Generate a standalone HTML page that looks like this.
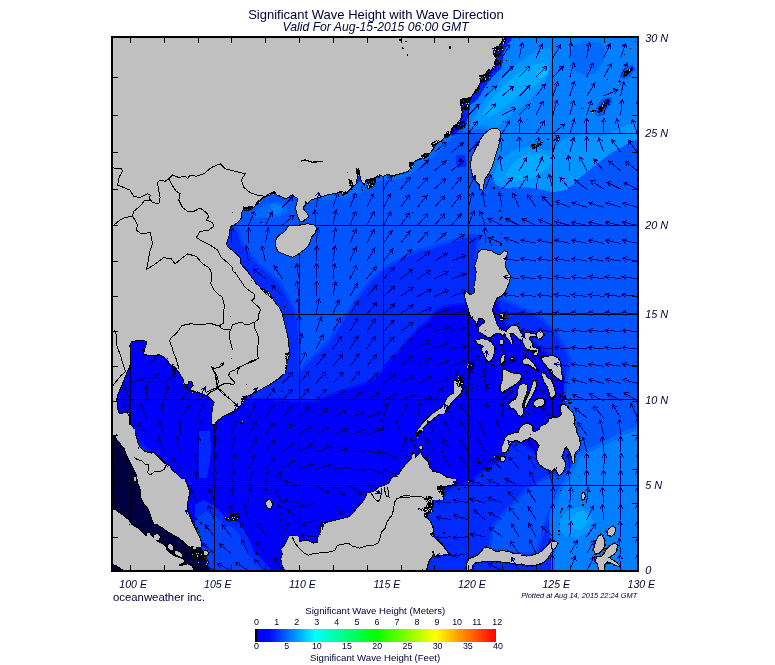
<!DOCTYPE html>
<html><head><meta charset="utf-8"><title>Significant Wave Height with Wave Direction</title>
<style>
html,body{margin:0;padding:0;background:#fff;}
body{width:775px;height:665px;overflow:hidden;position:relative;font-family:"Liberation Sans",sans-serif;color:#00003c;}
svg{position:absolute;left:0;top:0;}
.t{position:absolute;white-space:nowrap;line-height:1;}
.i{font-style:italic;}
</style></head><body>
<svg width="775" height="665" viewBox="0 0 775 665">
<defs><clipPath id="mapclip"><rect x="113" y="38" width="524" height="532"/></clipPath>
<linearGradient id="cb" x1="0" x2="1" y1="0" y2="0"><stop offset="0" stop-color="#000000"/><stop offset="0.007" stop-color="#000010"/><stop offset="0.012" stop-color="#0000ff"/><stop offset="0.06" stop-color="#0008ff"/><stop offset="0.25" stop-color="#00ffff"/><stop offset="0.5" stop-color="#00ff00"/><stop offset="0.75" stop-color="#ffff00"/><stop offset="1" stop-color="#ff0000"/></linearGradient></defs>
<g clip-path="url(#mapclip)">
<rect x="111" y="36" width="529" height="536" fill="#002aff"/>
<g shape-rendering="crispEdges">
<polygon fill="none" stroke="#0015ff" stroke-width="5" stroke-linejoin="round" points="225.0,395.0 240.0,401.0 265.9,400.0 299.5,402.0 317.6,402.0 328.0,397.0 338.3,393.0 348.7,389.3 361.6,385.4 374.5,380.2 382.3,372.4 390.1,362.1 400.4,350.5 410.8,338.8 421.0,327.0 428.4,322.0 433.4,316.0 437.6,311.0 444.4,307.5 451.0,306.6 458.0,305.8 464.6,305.0 470.5,304.0 480.0,300.0 495.0,300.0 505.0,325.0 525.0,335.0 540.0,350.0 552.0,358.0 562.0,375.0 566.0,392.0 560.0,410.0 565.0,420.0 560.0,440.0 540.0,455.0 520.0,440.0 505.0,440.0 502.0,458.0 490.0,465.0 478.0,473.0 468.0,482.0 456.0,484.0 430.0,500.0 380.0,530.0 330.0,545.0 292.0,540.0 288.0,572.0 205.0,572.0 195.0,540.0 185.0,500.0 150.0,450.0 135.0,435.0 115.0,420.0 115.0,390.0 125.0,345.0 128.0,336.0 150.0,333.0 170.0,350.0 185.0,370.0 195.0,385.0 210.0,395.0 215.0,410.0"/>
<polygon fill="#0000ff" points="225.0,395.0 240.0,401.0 265.9,400.0 299.5,402.0 317.6,402.0 328.0,397.0 338.3,393.0 348.7,389.3 361.6,385.4 374.5,380.2 382.3,372.4 390.1,362.1 400.4,350.5 410.8,338.8 421.0,327.0 428.4,322.0 433.4,316.0 437.6,311.0 444.4,307.5 451.0,306.6 458.0,305.8 464.6,305.0 470.5,304.0 480.0,300.0 495.0,300.0 505.0,325.0 525.0,335.0 540.0,350.0 552.0,358.0 562.0,375.0 566.0,392.0 560.0,410.0 565.0,420.0 560.0,440.0 540.0,455.0 520.0,440.0 505.0,440.0 502.0,458.0 490.0,465.0 478.0,473.0 468.0,482.0 456.0,484.0 430.0,500.0 380.0,530.0 330.0,545.0 292.0,540.0 288.0,572.0 205.0,572.0 195.0,540.0 185.0,500.0 150.0,450.0 135.0,435.0 115.0,420.0 115.0,390.0 125.0,345.0 128.0,336.0 150.0,333.0 170.0,350.0 185.0,370.0 195.0,385.0 210.0,395.0 215.0,410.0"/>
<polygon fill="none" stroke="#0040ff" stroke-width="6" stroke-linejoin="round" points="226.0,226.0 226.0,190.0 300.0,185.0 340.0,190.0 400.0,170.0 450.0,130.0 470.0,100.0 500.0,37.0 640.0,37.0 640.0,429.0 626.0,434.0 611.0,442.0 595.0,450.0 580.0,457.0 578.0,455.0 576.0,440.0 570.0,420.0 566.0,400.0 568.0,380.0 572.0,360.0 566.0,345.0 556.0,330.0 540.0,315.0 520.0,305.0 507.0,300.0 490.0,290.0 478.0,260.0 480.0,235.0 470.5,233.4 457.8,237.6 444.4,241.8 430.9,246.0 417.4,249.4 407.3,253.6 397.2,258.7 387.1,264.6 378.7,270.5 370.3,278.9 363.6,287.3 356.8,295.7 350.1,305.8 342.2,318.0 330.6,336.0 317.6,350.5 304.7,362.0 300.5,368.0 300.6,347.0 300.6,332.0 299.1,316.5 294.5,307.2 288.3,294.8 281.9,283.0 271.1,272.9 260.3,263.6 251.0,252.8 243.2,241.9 240.1,231.1 234.7,224.1 226.0,215.0"/>
<polygon fill="#0055ff" points="226.0,226.0 226.0,190.0 300.0,185.0 340.0,190.0 400.0,170.0 450.0,130.0 470.0,100.0 500.0,37.0 640.0,37.0 640.0,429.0 626.0,434.0 611.0,442.0 595.0,450.0 580.0,457.0 578.0,455.0 576.0,440.0 570.0,420.0 566.0,400.0 568.0,380.0 572.0,360.0 566.0,345.0 556.0,330.0 540.0,315.0 520.0,305.0 507.0,300.0 490.0,290.0 478.0,260.0 480.0,235.0 470.5,233.4 457.8,237.6 444.4,241.8 430.9,246.0 417.4,249.4 407.3,253.6 397.2,258.7 387.1,264.6 378.7,270.5 370.3,278.9 363.6,287.3 356.8,295.7 350.1,305.8 342.2,318.0 330.6,336.0 317.6,350.5 304.7,362.0 300.5,368.0 300.6,347.0 300.6,332.0 299.1,316.5 294.5,307.2 288.3,294.8 281.9,283.0 271.1,272.9 260.3,263.6 251.0,252.8 243.2,241.9 240.1,231.1 234.7,224.1 226.0,215.0"/>
<polygon fill="none" stroke="#0040ff" stroke-width="6" stroke-linejoin="round" points="580.0,457.0 572.0,470.0 560.0,476.0 553.8,475.5 541.0,482.0 528.0,489.7 517.6,501.4 504.7,514.3 494.3,527.2 491.7,544.0 490.0,552.0 535.0,552.0 546.0,517.0 551.0,504.0 556.0,491.0 564.0,481.0 572.0,470.0"/>
<polygon fill="#0055ff" points="580.0,457.0 572.0,470.0 560.0,476.0 553.8,475.5 541.0,482.0 528.0,489.7 517.6,501.4 504.7,514.3 494.3,527.2 491.7,544.0 490.0,552.0 535.0,552.0 546.0,517.0 551.0,504.0 556.0,491.0 564.0,481.0 572.0,470.0"/>
<polygon fill="none" stroke="#006aff" stroke-width="8" stroke-linejoin="round" points="640.5,428.9 626.3,434.1 610.8,441.9 595.2,449.6 579.7,457.4 574.0,470.3 568.0,481.0 562.0,491.0 556.0,504.0 553.0,517.0 553.0,524.0 554.0,535.0 555.0,545.0 555.0,572.0 640.5,572.0"/>
<polygon fill="#0080ff" points="640.5,428.9 626.3,434.1 610.8,441.9 595.2,449.6 579.7,457.4 574.0,470.3 568.0,481.0 562.0,491.0 556.0,504.0 553.0,517.0 553.0,524.0 554.0,535.0 555.0,545.0 555.0,572.0 640.5,572.0"/>
<polygon fill="none" stroke="#006aff" stroke-width="8" stroke-linejoin="round" points="497.0,37.0 640.0,37.0 640.0,130.0 620.0,138.0 600.0,148.0 580.0,160.0 560.0,172.0 545.0,182.0 520.0,185.0 500.0,183.0 490.0,175.0 485.0,150.0 492.0,130.0 466.0,128.0 463.0,115.0 470.0,102.0 478.0,88.0 486.0,74.0 492.0,58.0 498.0,45.0"/>
<polygon fill="#0080ff" points="497.0,37.0 640.0,37.0 640.0,130.0 620.0,138.0 600.0,148.0 580.0,160.0 560.0,172.0 545.0,182.0 520.0,185.0 500.0,183.0 490.0,175.0 485.0,150.0 492.0,130.0 466.0,128.0 463.0,115.0 470.0,102.0 478.0,88.0 486.0,74.0 492.0,58.0 498.0,45.0"/>
<polygon fill="#006aff" points="569.4,55.1 574.5,44.8 587.5,40.9 600.4,42.2 605.6,49.9 603.0,62.9 595.2,73.2 584.9,75.8 574.5,70.6 570.7,62.9"/>
<polygon fill="#0095ff" points="469.8,125.0 478.8,109.4 489.2,93.9 502.1,78.4 515.0,65.5 528.0,56.4 538.3,49.9 548.7,47.3 552.5,52.5 551.3,62.9 548.7,73.2 543.5,83.6 535.7,92.6 528.0,101.7 520.2,108.2 512.4,113.3 504.7,119.8 498.2,126.3 491.7,127.6 484.0,125.0 476.2,126.3"/>
<polygon fill="#0095ff" points="493.0,176.7 498.2,163.8 507.3,154.7 517.6,148.3 528.0,147.0 538.3,148.3 548.7,150.8 553.8,148.3 561.6,140.5 574.5,136.6 584.9,135.3 595.2,136.6 605.6,135.3 621.1,127.6 640.5,119.8 640.5,137.9 626.3,144.4 610.8,153.4 595.2,165.1 579.7,178.0 566.8,189.7 553.8,192.2 540.9,189.7 528.0,187.1 515.0,187.1 504.7,188.4 495.6,184.5"/>
<polygon fill="#0095ff" points="560.0,520.0 568.0,510.0 580.0,507.0 590.0,512.0 593.0,522.0 588.0,532.0 578.0,538.0 566.0,537.0 560.0,530.0"/>
<polygon fill="#00aaff" points="481.4,114.6 491.7,99.1 504.7,84.9 517.6,73.2 530.6,65.5 543.5,62.9 550.0,66.8 546.1,75.8 538.3,83.6 528.0,90.0 517.6,96.5 507.3,104.3 498.2,112.0 489.2,117.2"/>
<polygon fill="#00aaff" points="504.7,174.1 512.4,163.8 522.8,156.0 535.7,153.4 548.7,156.0 553.8,159.9 546.1,169.0 535.7,176.7 522.8,180.6 509.9,180.6"/>
<polygon fill="#00aaff" points="570.0,519.0 576.0,512.0 584.0,511.0 589.0,517.0 587.0,525.0 580.0,530.0 573.0,529.0"/>
<polygon fill="#00c1ff" points="535.7,73.2 543.5,68.0 548.7,69.3 546.1,75.8 539.6,78.4"/>
<polygon fill="#006aff" points="251.0,213.3 260.3,207.9 269.6,203.2 278.8,201.7 285.0,205.5 288.1,211.0 281.9,215.6 272.6,217.9 263.4,217.2 255.6,218.7"/>
<polygon fill="#0080ff" points="271.1,204.8 280.4,204.8 283.5,209.4 278.8,214.1 271.9,213.3"/>
<polygon fill="#006aff" points="320.7,195.8 330.0,194.3 339.3,191.2 347.0,191.9 353.2,185.0 361.7,181.1 370.3,179.6 379.6,174.9 391.9,175.7 402.8,172.6 410.5,167.9 416.7,159.4 424.5,154.8 433.0,148.6 436.8,142.4 445.4,135.4 450.8,131.9 453.9,136.2 447.7,142.4 441.5,148.6 435.3,154.8 427.6,161.0 419.8,166.4 413.6,172.6 404.3,177.2 393.5,180.3 381.1,180.3 371.8,184.2 364.1,191.9 353.2,195.0 347.0,198.1 339.3,197.4 330.0,199.7 320.7,200.5"/>
<polygon fill="#001eff" points="450.1,129.9 457.9,122.2 461.7,111.3 461.0,99.7 471.0,96.6 480.3,81.9 488.1,70.3 495.0,66.4 495.8,58.7 493.5,48.6 500.5,43.2 507.4,35.5 514.4,35.5 507.4,44.7 502.8,54.0 502.8,61.8 501.2,68.0 495.0,74.2 487.3,83.5 478.0,98.9 470.3,105.1 468.7,114.4 465.6,125.3 456.3,133.0 451.7,136.1"/>
<polygon fill="#002aff" points="203.0,500.0 214.7,506.0 226.0,517.0 236.0,521.0 245.0,530.0 250.0,542.0 255.0,553.0 265.0,562.0 272.0,572.0 195.0,572.0 195.0,505.0"/>
<polygon fill="#0040ff" points="205.0,512.0 214.7,515.0 223.2,524.0 233.3,528.0 240.0,536.0 244.0,545.0 248.0,555.0 258.0,565.0 262.0,572.0 195.0,572.0 195.0,520.0"/>
<polygon fill="#002aff" points="199.0,431.0 210.0,431.0 211.0,452.0 207.0,478.0 199.0,478.0"/>
<polygon fill="#0055ff" points="595.0,115.3 596.9,104.3 604.0,97.8 611.2,96.5 612.4,102.3 607.9,108.2 603.4,114.0 599.5,116.6"/>
<polygon fill="#002aff" points="597.6,113.3 599.5,106.2 604.7,101.0 609.2,99.7 609.9,102.3 606.0,106.2 602.1,111.4"/>
<polygon fill="#0055ff" points="620.2,77.8 622.1,69.3 632.5,64.2 635.7,69.3 629.9,76.5 624.1,79.7"/>
<polygon fill="#002aff" points="622.8,75.8 624.3,71.3 632.1,67.0 633.4,69.3 628.2,74.3"/>
<polygon fill="#002aff" points="455.5,155.6 464.8,154.8 466.3,166.5 457.0,168.0"/>
<polygon fill="#000040" points="108.5,430.4 119.3,430.4 148.7,480.0 164.2,511.0 190.5,545.0 201.4,548.1 204.5,554.3 202.9,560.5 209.1,566.7 210.7,572.9 108.5,572.9"/>
</g>
<g stroke="#000018" stroke-width="1" shape-rendering="crispEdges">
<line x1="130.5" y1="38" x2="130.5" y2="570"/><line x1="214.5" y1="38" x2="214.5" y2="570"/><line x1="299.5" y1="38" x2="299.5" y2="570"/><line x1="383.5" y1="38" x2="383.5" y2="570"/><line x1="468.5" y1="38" x2="468.5" y2="570"/><line x1="552.5" y1="38" x2="552.5" y2="570"/><line x1="113" y1="133.5" x2="637" y2="133.5"/><line x1="113" y1="225.5" x2="637" y2="225.5"/><line x1="113" y1="314.5" x2="637" y2="314.5"/><line x1="113" y1="399.5" x2="637" y2="399.5"/><line x1="113" y1="485.5" x2="637" y2="485.5"/></g>
<g fill="none" stroke="#000" stroke-linejoin="round" shape-rendering="crispEdges">
<polyline stroke-width="2" points="255.6,284.1 253.3,279.9 250.2,276.0 247.1,271.4 243.2,267.5 240.1,263.6 239.4,257.4 235.5,253.6 231.6,250.5 227.7,247.4 225.9,243.5 227.0,241.2 228.5,235.7 229.3,229.6 230.8,225.7 234.7,224.1 238.6,221.0 240.9,217.9 240.9,213.3 242.5,210.2 242.5,207.1 247.1,207.9 253.3,207.1 256.4,203.2 259.5,200.1 261.8,197.8 266.5,195.5 269.6,194.7 274.2,190.8 277.3,194.7 281.9,196.3 285.0,198.6 288.9,196.3 292.0,193.9 294.3,196.3 298.2,197.8 297.4,203.2 295.9,207.9 297.4,213.3 298.7,217.2 299.9,220.6 302.4,221.2 305.9,218.4 308.3,216.4 306.7,213.3 304.4,211.0 302.8,207.1 305.2,204.8 305.2,200.1 307.5,203.2 310.6,199.4 316.0,197.8 322.2,196.3 328.4,193.9 334.6,193.2 340.8,191.6"/>
<polyline stroke-width="2" points="288.1,226.8 292.8,225.8 299.0,226.1 302.1,224.9 306.7,224.4 311.4,224.6 315.2,226.1 316.3,229.6 314.5,233.4 311.4,236.5 309.8,241.2 308.3,245.0 304.4,248.9 300.5,252.0 297.4,254.3 292.8,256.6 288.1,255.1 281.9,252.8 278.1,251.2 276.5,246.6 275.7,241.9 277.3,238.1 280.4,235.0 284.3,232.6 286.6,229.6 288.1,226.8"/>
<polyline stroke-width="2" points="339.3,191.2 343.2,194.3 347.0,191.9 350.1,188.8 349.4,183.4 348.6,179.6 351.7,180.3 353.2,185.0 355.5,184.2 357.1,176.5 356.3,169.5 358.6,168.7 360.2,174.9 361.7,181.1 364.1,183.4 366.4,180.3 370.3,179.6 374.9,177.2 379.6,174.9 383.4,175.7 388.1,173.4 391.9,175.7 396.6,174.1 402.8,172.6 407.4,171.0 410.5,167.9 409.0,163.3 412.8,162.5 416.7,159.4 421.4,157.9 424.5,154.8 429.1,153.2 433.0,148.6 432.2,144.7 436.8,142.4 441.5,140.1 445.4,135.4 450.8,131.9"/>
<polyline stroke-width="2" points="450.1,129.9 454.0,126.0 457.9,122.2 461.0,117.5 461.7,111.3 460.2,105.1 461.0,99.7 466.4,98.2 471.0,96.6 474.1,92.0 477.2,87.3 480.3,81.9 479.6,76.5 484.2,74.9 488.1,70.3 491.2,69.5 495.0,66.4 493.5,63.3 495.8,58.7 492.7,54.0 493.5,48.6 498.1,46.3 500.5,43.2 504.3,39.3 507.4,35.5"/>
<polyline stroke-width="2" points="493.4,128.5 497.3,129.3 500.4,132.4 499.6,138.6 498.1,146.3 495.7,153.3 493.4,161.0 491.1,168.0 487.2,175.0 484.1,179.6 483.4,185.0 482.6,189.7 480.3,188.9 479.5,184.3 476.4,181.2 473.3,176.5 471.7,170.3 471.0,163.4 472.5,156.4 475.6,149.4 479.5,141.7 484.1,134.7 488.8,130.8 493.4,128.5"/>
<polyline stroke-width="2" points="468.9,309.4 466.6,302.4 465.1,296.2 465.8,291.6 470.5,295.5 475.1,293.1 474.4,286.9 475.9,279.2 476.7,271.5 475.1,266.0 477.5,259.1 478.2,252.9 482.1,249.8 486.7,250.5 491.4,251.3 496.0,254.4 500.7,255.2 504.6,251.3 506.9,252.1 506.1,258.3 504.6,265.3 506.9,271.5 510.0,276.1 509.2,281.5 506.9,286.9 504.6,292.4 501.5,295.5 496.8,297.8 494.5,302.4 492.2,308.6"/>
<polyline stroke-width="2" points="460.4,378.1 462.0,382.8 461.2,387.4 459.6,393.6 456.5,396.7 454.2,396.7 454.2,381.2 458.1,379.7 460.4,378.1"/>
<polyline stroke-width="2" points="563.4,404.5 566.5,406.0 569.6,410.7 568.8,414.1 561.8,414.1 561.1,406.0 563.4,404.5"/>
<polyline stroke-width="2" points="502.2,356.1 504.6,354.9 504.2,361.1 501.8,362.0 502.2,356.1"/>
<polyline stroke-width="2" points="467.0,299.2 467.8,304.7 469.0,310.2 470.2,314.5 471.7,316.8 473.7,318.8 475.6,321.1 476.8,323.5 477.6,321.1 477.6,318.4 479.6,317.6 482.7,318.4 484.6,320.0 485.0,322.3 483.1,323.9 481.1,325.8 479.2,327.4 478.8,330.1 479.6,332.1 481.9,332.9 484.3,334.4 487.0,336.4 490.1,337.2 492.1,336.0 493.6,334.0 496.0,332.9 498.3,332.5 500.3,333.3 502.3,334.4 504.6,336.0 506.9,337.6 508.9,339.1 510.5,341.5 511.3,343.8 512.4,343.4 512.0,340.7 510.9,338.3 510.1,336.0 509.3,333.6 510.9,332.5 513.2,332.9 515.6,334.8 517.9,337.2 520.0,339.1 522.0,340.7 523.5,342.6 524.7,345.0 525.9,347.3 527.8,348.9 530.6,349.7 533.3,350.1 534.9,350.9 534.1,352.4 534.5,354.8 536.1,355.2 537.2,353.6 538.0,351.3 537.6,349.3 535.7,348.5 533.3,347.7 531.8,346.2 532.1,343.8 531.0,341.5 529.4,339.5 529.0,337.6 530.6,336.4 533.3,336.0 535.7,335.6 535.3,334.4 532.5,334.4 530.2,333.6 527.8,332.9 525.1,333.6 523.1,335.2 520.8,333.6 519.2,330.9 517.9,327.0 514.8,325.8 511.6,326.2 509.3,327.8 507.7,330.1 506.6,332.1 504.6,331.3 502.3,330.1 499.9,328.6 497.9,326.6 496.4,323.5 495.2,320.3 494.0,316.8 492.9,313.3 491.7,309.8 492.1,307.0 493.6,303.9 494.8,299.2"/>
<polyline stroke-width="2" points="499.9,314.5 502.3,313.7 503.0,315.6 502.6,319.6 500.7,320.3 499.9,318.0 499.9,314.5"/>
<polyline stroke-width="2" points="537.3,333.5 539.2,330.9 541.8,331.6 543.1,334.8 541.2,338.0 538.6,338.7 537.0,336.8 537.3,333.5"/>
<polyline stroke-width="2" points="476.1,340.5 481.1,339.1 486.9,339.9 491.2,342.7 493.9,347.0 494.2,351.9 492.8,356.9 489.8,361.2 486.9,359.8 484.7,355.5 482.5,350.5 480.3,345.5 477.5,342.7 476.1,340.5"/>
<polyline stroke-width="2" points="500.0,340.6 503.0,340.0 503.9,342.6 502.3,344.5 500.4,343.9 500.0,340.6"/>
<polyline stroke-width="2" points="523.7,359.4 526.9,358.1 529.5,360.0 532.1,362.6 535.3,366.5 536.6,369.1 534.7,368.4 531.4,365.9 528.2,363.9 525.0,364.6 523.0,362.0 523.7,359.4"/>
<polyline stroke-width="2" points="501.7,356.8 503.9,356.2 503.4,360.7 501.7,363.3 500.8,360.7 501.7,356.8"/>
<polyline stroke-width="2" points="511.1,357.8 514.0,358.7 513.3,360.7 510.8,360.0 511.1,357.8"/>
<polyline stroke-width="2" points="503.3,369.7 507.2,371.0 511.0,372.9 515.6,374.2 519.5,373.6 521.4,376.2 520.1,379.4 517.5,382.0 514.3,384.6 511.0,386.5 507.8,388.5 504.6,390.4 502.0,392.3 500.7,389.8 501.3,385.2 502.6,380.7 503.3,375.5 503.3,369.7"/>
<polyline stroke-width="2" points="520.1,385.2 523.3,383.9 526.6,385.2 527.2,389.1 525.9,393.6 524.0,398.8 522.0,404.0 522.7,409.2 523.3,413.0 520.8,415.6 518.2,415.0 516.9,411.1 514.3,408.5 510.4,407.2 509.1,404.0 511.7,401.4 515.6,400.1 517.5,396.2 518.2,391.0 518.8,387.8 520.1,385.2"/>
<polyline stroke-width="2" points="535.0,380.7 536.3,383.9 535.0,389.1 532.4,394.3 529.8,398.8 527.2,403.3 525.3,407.2 524.6,404.6 526.6,400.1 529.2,394.9 531.1,389.8 532.4,385.2 533.7,382.0 535.0,380.7"/>
<polyline stroke-width="2" points="533.7,402.7 536.3,400.1 540.2,398.6 543.4,399.5 544.7,402.0 543.4,404.6 540.2,406.3 536.3,406.6 534.1,405.3 533.7,402.7"/>
<polyline stroke-width="2" points="542.1,372.9 544.7,374.2 547.3,378.1 549.9,379.4 552.4,383.3 553.7,387.8 555.0,392.3 554.4,396.9 551.8,397.5 549.9,394.9 549.2,390.4 547.3,385.9 544.7,382.0 542.7,377.5 542.1,372.9"/>
<polyline stroke-width="2" points="541.8,358.1 546.3,356.8 552.8,356.2 557.3,358.1 559.9,362.0 560.6,367.2 561.2,373.6 562.5,378.8 563.4,378.1 560.9,380.1 557.6,378.1 555.0,375.5 551.8,372.3 548.6,367.8 544.7,363.2 542.1,360.0 541.8,358.1"/>
<polyline stroke-width="2" points="560.5,405.8 563.6,405.1 566.6,408.9 569.7,410.5 572.8,413.6 574.4,419.8 573.6,425.2 575.9,428.3 576.7,433.7 579.0,438.4 579.8,444.6 578.3,449.2 575.2,452.3 573.6,456.9 573.6,463.1 572.1,460.0 571.3,454.6 569.0,450.0 566.6,446.1 564.3,448.4 562.8,453.1 561.2,456.9 563.6,460.0 565.1,463.9 564.3,468.6 562.0,472.4 558.9,475.5 557.4,471.6 555.0,467.8 551.9,470.9 548.1,469.3 543.4,467.0 539.6,463.9 537.2,459.3 536.5,453.8 538.0,449.2 539.6,445.3 537.2,441.5 533.4,439.1 530.3,436.8 527.2,439.1 523.3,439.9 521.0,442.2 518.6,440.7 515.5,439.9 511.7,441.5 509.4,444.6 507.8,448.4 505.5,452.3 502.4,451.5 501.6,447.6 503.9,443.0 505.5,438.4 508.6,435.3 513.2,433.7 518.6,432.9 520.2,428.3 523.3,425.2 527.9,423.6 531.8,426.0 532.6,431.4 534.9,432.2 539.6,429.8 541.1,426.0 545.0,425.2 548.1,422.9 549.6,419.0 553.5,418.2 558.1,417.5 562.0,415.1 561.2,410.5 560.5,405.8"/>
<polyline stroke-width="2" points="500.1,457.7 503.2,456.6 505.2,458.5 504.2,460.8 501.1,461.3 500.1,457.7"/>
<polyline stroke-width="2" points="582.6,494.1 584.1,492.9 584.8,495.7 583.7,499.1 581.7,499.1 582.6,494.1"/>
<polyline stroke-width="2" points="519.2,555.1 526.2,556.6 532.4,555.9 538.6,553.6 543.2,550.5 547.1,546.6 550.2,542.7 553.3,541.2 557.2,542.7 556.4,545.8 553.3,548.9 550.2,553.6 547.1,558.2 543.2,562.1 537.0,564.4 529.3,565.2 523.9,564.4 519.2,562.1"/>
<polyline stroke-width="2" points="609.0,529.6 612.1,526.5 614.8,528.0 614.5,532.6 611.4,535.7 608.3,535.0 607.5,531.9 609.0,529.6"/>
<polyline stroke-width="2" points="596.6,541.2 599.0,536.5 601.3,535.0 603.6,538.8 604.4,543.5 602.8,548.9 599.0,552.8 595.9,553.6 594.0,549.7 595.1,545.0 596.6,541.2"/>
<polyline stroke-width="2" points="604.4,554.3 606.7,549.7 610.6,545.8 614.5,543.5 616.8,545.8 616.0,551.2 612.1,555.1 608.3,557.4 611.4,559.7 616.0,562.8 619.1,565.9 616.0,565.2 611.4,562.8 607.5,561.3 604.4,564.4 603.6,570.6 599.0,570.6 598.2,564.4 595.9,560.5 597.4,556.6 601.3,557.4 604.4,554.3"/>
<polyline stroke-width="2" points="582.2,494.7 583.8,493.6 584.4,497.0 583.2,499.4 581.9,497.8 582.2,494.7"/>
<polyline stroke-width="2" points="456.5,479.2 454.2,483.1 449.6,485.4 443.4,485.4 437.9,486.2 437.2,489.3 440.3,493.2 443.4,495.5 437.2,497.8 431.7,499.4 433.3,503.2 431.0,507.1 431.7,511.0 427.9,513.3 425.5,517.2 429.4,521.0 431.7,525.7 433.3,531.1 431.0,535.0 434.8,538.1 438.7,541.9 442.6,545.8 445.7,550.5 448.8,554.3 441.8,555.1 435.6,555.9 433.3,552.8 431.7,556.6 428.6,560.5 427.1,565.9 425.5,571.4"/>
<polyline stroke-width="2" points="520.8,554.3 514.6,554.3 508.4,552.0 502.2,551.2 496.0,552.0 492.1,549.7 488.3,548.1 484.4,548.1 482.1,551.2 479.0,555.1 474.3,557.4 469.7,559.0 467.4,562.8 466.6,571.4 471.2,571.4 472.0,565.2 475.9,562.1 482.1,561.3 489.8,561.3 499.1,561.3 508.4,562.1 516.1,563.6 520.8,563.6"/>
<polyline stroke-width="2" points="288.5,535.8 293.1,535.8 296.2,539.7 300.1,542.0 304.7,540.5 308.6,541.2 313.2,543.6 317.9,542.8 318.6,536.6 321.0,531.9 321.7,523.4 324.8,522.6 330.3,521.9 336.5,520.3 342.6,518.8 348.8,517.2 353.5,513.4 358.1,507.2 362.8,502.5 365.9,497.9 367.4,493.2 371.3,492.5 375.2,490.9 379.8,487.0 382.9,486.3 386.8,485.5 390.7,484.7 393.7,481.6 390.7,479.3 395.3,476.2 399.9,473.9 402.3,469.2"/>
<polyline stroke-width="2" points="379.2,487.9 383.9,486.4 389.3,483.3 391.6,479.4 395.5,477.8 399.4,474.0 402.5,469.3 405.5,465.5 408.6,461.6 411.7,459.3 412.8,453.1 414.8,454.6 415.6,458.5 418.7,454.6 420.6,453.1 422.6,456.9 425.7,460.0 428.0,463.1 429.6,467.8 431.9,470.9 435.7,472.4 439.6,473.2 443.5,475.5 446.6,477.8 451.2,478.6 455.9,480.2 455.1,483.3 451.2,484.8 446.6,485.6 441.9,486.4 438.1,487.9 440.4,491.8 441.9,495.7 443.8,500.3"/>
<polyline stroke-width="2" points="456.6,394.2 452.8,398.1 448.9,402.0 447.4,406.6 445.0,410.5 441.2,412.8 437.3,415.1 433.4,418.2 429.6,421.3 425.7,424.4 422.6,427.5 421.0,430.6 418.7,432.9 417.2,436.8 416.4,433.7 417.9,429.8 421.0,426.0 424.1,422.1 428.0,418.2 431.9,414.4 436.5,411.3 441.2,408.2 444.3,404.3 446.6,399.6 449.7,395.8 452.0,394.2 456.6,394.2"/>
<polyline stroke-width="2" points="419.0,446.9 421.5,445.8 422.6,448.4 420.6,449.5 419.0,446.9"/>
<polyline stroke-width="2" points="437.2,413.7 441.8,407.6 446.5,401.4 451.1,396.7 455.0,392.8 457.3,389.0 460.4,386.6 461.9,389.0 460.4,393.6 456.5,396.7 453.4,399.8 449.6,404.5 445.7,409.9 444.1,413.7"/>
<polyline stroke-width="2" points="242.6,268.5 246.5,274.6 251.1,279.3 255.7,283.9 261.2,288.6 266.6,292.5 271.2,297.1 275.1,303.3 279.0,307.9 281.3,312.6 282.8,318.0 284.4,324.2 285.9,330.4 287.5,338.1 288.3,345.9 289.0,350.5 288.3,355.2 286.7,359.8 285.9,366.0 285.2,374.1"/>
<polyline stroke-width="2" points="286.7,358.5 285.9,364.6 285.2,369.3 282.8,373.9 279.0,377.8 274.3,380.9 269.7,384.0 265.0,386.3 260.4,389.4 255.0,391.7 251.1,394.1 246.5,396.4 243.4,399.5 241.0,404.1 237.9,408.0 233.3,411.1 228.6,413.4 223.2,415.7 219.4,419.6 215.5,423.5 212.4,424.3 211.6,419.6 212.4,412.6 213.9,406.5 214.7,401.8 210.8,398.7 207.0,394.8 204.6,392.5 199.2,391.0"/>
<polyline stroke-width="2" points="134.8,434.1 133.2,427.6 129.4,424.5 128.6,418.3 129.4,413.6 124.7,412.8 120.1,414.4 117.7,412.1 117.0,405.9 116.2,399.7 117.7,393.5 120.1,388.1 122.4,382.6 124.7,376.5 127.0,371.0 129.4,365.6 130.1,359.4 130.1,353.2 129.4,345.5 130.9,341.6 136.3,340.1 142.5,340.1 147.2,340.8 146.4,345.5 144.8,350.1 144.1,354.0 148.7,354.8 154.9,354.8 159.6,354.0 163.4,356.3 167.3,359.4 170.4,364.1 175.0,366.4 178.1,370.3 181.2,374.9 183.6,379.6 184.3,384.2 187.4,384.2 189.0,380.3 192.8,381.9 193.6,385.7 190.5,389.6 194.4,391.2 198.3,391.9 202.9,393.5 206.8,395.0 210.7,397.4 215.3,399.7 216.8,402.8 213.7,404.3 213.0,410.5 213.0,416.7 212.2,423.7"/>
<polyline stroke-width="2" points="154.1,524.1 152.6,519.1 150.3,512.9 147.2,506.7 143.3,502.1 141.0,497.4 141.7,492.8 140.2,488.1 137.9,481.9 137.1,475.7 136.3,469.6 134.8,464.9 133.2,460.3 129.4,457.2 126.3,453.3 124.7,448.6 121.6,444.8 117.7,440.1 115.4,436.3 108.5,434.7"/>
<polyline stroke-width="2" points="135.5,435.5 137.1,441.7 139.4,447.1 143.3,451.0 148.7,453.3 153.4,453.3 156.5,455.6 160.3,459.5 164.2,463.4 169.6,466.5 171.9,471.1 176.6,474.2 180.5,478.1 184.3,481.9 186.6,486.6 188.2,492.0 188.2,497.4 186.6,503.6 187.4,508.3 185.9,512.9 186.6,519.1 187.4,524.1"/>
<polyline stroke-width="2" points="108.5,509.0 116.2,511.4 120.8,515.2 125.5,519.1 130.1,524.1"/>
<polyline stroke-width="2" points="133.7,477.6 135.7,477.3 136.3,480.7 134.2,481.3 133.7,477.6"/>
<polyline stroke-width="2" points="184.3,478.5 187.4,486.2 189.0,492.4 188.2,498.6 186.6,504.8 187.4,511.0 189.7,517.2 192.1,523.4 195.2,528.8 197.5,534.2 199.8,538.8 201.4,542.7 200.6,546.6 196.7,547.4 193.6,545.8 190.5,546.6 188.2,545.8 184.3,541.9 179.7,538.1 174.3,535.0 168.8,531.9 163.4,528.0 158.0,524.9 154.1,521.0 152.6,516.4 149.5,510.2 146.4,504.8 143.3,500.1 141.0,494.7 141.7,489.3 140.2,484.6 137.1,478.5"/>
<polyline stroke-width="2" points="108.5,509.1 115.4,510.2 119.3,513.3 123.9,516.4 128.6,520.3 131.7,524.9 135.5,527.2 139.4,529.6 143.3,533.4 146.4,536.5 147.2,532.6 149.5,533.4 152.6,537.3 156.5,541.2 161.1,543.5 165.0,545.8 166.5,549.7 169.6,552.8 173.5,555.9 178.1,557.4 182.0,559.0 184.3,561.3 181.2,563.6 176.6,565.2 181.2,565.9 187.4,564.4 192.1,566.7 194.4,571.4"/>
<polyline stroke-width="2.4" points="108.5,562.1 116.2,565.2 120.8,568.3 125.5,571.4"/>
<polyline stroke-width="2" points="154.1,535.0 157.2,534.2 159.9,536.5 158.8,539.6 155.7,540.4 153.4,538.1 154.1,535.0"/>
<polyline stroke-width="2" points="167.3,544.7 171.2,544.3 173.5,548.1 171.9,550.5 168.8,548.9 167.3,544.7"/>
<polyline stroke-width="2" points="174.3,550.5 178.1,551.2 181.5,554.3 182.8,557.4 179.7,556.6 175.8,554.3 174.3,550.5"/>
<polyline stroke-width="2" points="192.8,546.6 195.9,546.3 196.7,548.4 193.6,548.9 192.8,546.6"/>
<polyline stroke-width="2" points="204.1,551.5 207.2,550.9 208.3,554.0 205.7,555.6 203.8,554.0 204.1,551.5"/>
<polyline stroke-width="2" points="292.9,535.8 289.0,537.4 286.7,541.2 284.4,545.9 281.3,549.7 282.8,554.4 281.3,559.0 282.1,564.5 284.4,569.1 285.5,573.0"/>
<polyline stroke-width="2" points="268.9,499.4 272.0,503.3 271.2,507.2 268.1,508.7 265.8,504.8 266.6,501.7 268.9,499.4"/>
</g>
<g fill="none" stroke="#000" stroke-width="3.4" stroke-dasharray="1.3 3.1" shape-rendering="crispEdges">
<polyline points="339.3,191.2 343.2,194.3 347.0,191.9 350.1,188.8 349.4,183.4 348.6,179.6 351.7,180.3 353.2,185.0 355.5,184.2 357.1,176.5 356.3,169.5 358.6,168.7 360.2,174.9 361.7,181.1 364.1,183.4 366.4,180.3 370.3,179.6 374.9,177.2 379.6,174.9 383.4,175.7 388.1,173.4 391.9,175.7 396.6,174.1 402.8,172.6 407.4,171.0 410.5,167.9 409.0,163.3 412.8,162.5 416.7,159.4 421.4,157.9 424.5,154.8 429.1,153.2 433.0,148.6 432.2,144.7 436.8,142.4 441.5,140.1 445.4,135.4 450.8,131.9"/>
<polyline points="450.1,129.9 454.0,126.0 457.9,122.2 461.0,117.5 461.7,111.3 460.2,105.1 461.0,99.7 466.4,98.2 471.0,96.6 474.1,92.0 477.2,87.3 480.3,81.9 479.6,76.5 484.2,74.9 488.1,70.3 491.2,69.5 495.0,66.4 493.5,63.3 495.8,58.7 492.7,54.0 493.5,48.6 498.1,46.3 500.5,43.2 504.3,39.3 507.4,35.5"/>
<polyline points="460.4,378.1 462.0,382.8 461.2,387.4 459.6,393.6 456.5,396.7 454.2,396.7 454.2,381.2 458.1,379.7 460.4,378.1"/>
<polyline points="563.4,404.5 566.5,406.0 569.6,410.7 568.8,414.1 561.8,414.1 561.1,406.0 563.4,404.5"/>
<polyline points="502.2,356.1 504.6,354.9 504.2,361.1 501.8,362.0 502.2,356.1"/>
<polyline points="467.0,299.2 467.8,304.7 469.0,310.2 470.2,314.5 471.7,316.8 473.7,318.8 475.6,321.1 476.8,323.5 477.6,321.1 477.6,318.4 479.6,317.6 482.7,318.4 484.6,320.0 485.0,322.3 483.1,323.9 481.1,325.8 479.2,327.4 478.8,330.1 479.6,332.1 481.9,332.9 484.3,334.4 487.0,336.4 490.1,337.2 492.1,336.0 493.6,334.0 496.0,332.9 498.3,332.5 500.3,333.3 502.3,334.4 504.6,336.0 506.9,337.6 508.9,339.1 510.5,341.5 511.3,343.8 512.4,343.4 512.0,340.7 510.9,338.3 510.1,336.0 509.3,333.6 510.9,332.5 513.2,332.9 515.6,334.8 517.9,337.2 520.0,339.1 522.0,340.7 523.5,342.6 524.7,345.0 525.9,347.3 527.8,348.9 530.6,349.7 533.3,350.1 534.9,350.9 534.1,352.4 534.5,354.8 536.1,355.2 537.2,353.6 538.0,351.3 537.6,349.3 535.7,348.5 533.3,347.7 531.8,346.2 532.1,343.8 531.0,341.5 529.4,339.5 529.0,337.6 530.6,336.4 533.3,336.0 535.7,335.6 535.3,334.4 532.5,334.4 530.2,333.6 527.8,332.9 525.1,333.6 523.1,335.2 520.8,333.6 519.2,330.9 517.9,327.0 514.8,325.8 511.6,326.2 509.3,327.8 507.7,330.1 506.6,332.1 504.6,331.3 502.3,330.1 499.9,328.6 497.9,326.6 496.4,323.5 495.2,320.3 494.0,316.8 492.9,313.3 491.7,309.8 492.1,307.0 493.6,303.9 494.8,299.2"/>
<polyline points="499.9,314.5 502.3,313.7 503.0,315.6 502.6,319.6 500.7,320.3 499.9,318.0 499.9,314.5"/>
<polyline points="537.3,333.5 539.2,330.9 541.8,331.6 543.1,334.8 541.2,338.0 538.6,338.7 537.0,336.8 537.3,333.5"/>
<polyline points="476.1,340.5 481.1,339.1 486.9,339.9 491.2,342.7 493.9,347.0 494.2,351.9 492.8,356.9 489.8,361.2 486.9,359.8 484.7,355.5 482.5,350.5 480.3,345.5 477.5,342.7 476.1,340.5"/>
<polyline points="500.0,340.6 503.0,340.0 503.9,342.6 502.3,344.5 500.4,343.9 500.0,340.6"/>
<polyline points="523.7,359.4 526.9,358.1 529.5,360.0 532.1,362.6 535.3,366.5 536.6,369.1 534.7,368.4 531.4,365.9 528.2,363.9 525.0,364.6 523.0,362.0 523.7,359.4"/>
<polyline points="501.7,356.8 503.9,356.2 503.4,360.7 501.7,363.3 500.8,360.7 501.7,356.8"/>
<polyline points="511.1,357.8 514.0,358.7 513.3,360.7 510.8,360.0 511.1,357.8"/>
<polyline points="503.3,369.7 507.2,371.0 511.0,372.9 515.6,374.2 519.5,373.6 521.4,376.2 520.1,379.4 517.5,382.0 514.3,384.6 511.0,386.5 507.8,388.5 504.6,390.4 502.0,392.3 500.7,389.8 501.3,385.2 502.6,380.7 503.3,375.5 503.3,369.7"/>
<polyline points="520.1,385.2 523.3,383.9 526.6,385.2 527.2,389.1 525.9,393.6 524.0,398.8 522.0,404.0 522.7,409.2 523.3,413.0 520.8,415.6 518.2,415.0 516.9,411.1 514.3,408.5 510.4,407.2 509.1,404.0 511.7,401.4 515.6,400.1 517.5,396.2 518.2,391.0 518.8,387.8 520.1,385.2"/>
<polyline points="535.0,380.7 536.3,383.9 535.0,389.1 532.4,394.3 529.8,398.8 527.2,403.3 525.3,407.2 524.6,404.6 526.6,400.1 529.2,394.9 531.1,389.8 532.4,385.2 533.7,382.0 535.0,380.7"/>
<polyline points="533.7,402.7 536.3,400.1 540.2,398.6 543.4,399.5 544.7,402.0 543.4,404.6 540.2,406.3 536.3,406.6 534.1,405.3 533.7,402.7"/>
<polyline points="542.1,372.9 544.7,374.2 547.3,378.1 549.9,379.4 552.4,383.3 553.7,387.8 555.0,392.3 554.4,396.9 551.8,397.5 549.9,394.9 549.2,390.4 547.3,385.9 544.7,382.0 542.7,377.5 542.1,372.9"/>
<polyline points="541.8,358.1 546.3,356.8 552.8,356.2 557.3,358.1 559.9,362.0 560.6,367.2 561.2,373.6 562.5,378.8 563.4,378.1 560.9,380.1 557.6,378.1 555.0,375.5 551.8,372.3 548.6,367.8 544.7,363.2 542.1,360.0 541.8,358.1"/>
<polyline points="560.5,405.8 563.6,405.1 566.6,408.9 569.7,410.5 572.8,413.6 574.4,419.8 573.6,425.2 575.9,428.3 576.7,433.7 579.0,438.4 579.8,444.6 578.3,449.2 575.2,452.3 573.6,456.9 573.6,463.1 572.1,460.0 571.3,454.6 569.0,450.0 566.6,446.1 564.3,448.4 562.8,453.1 561.2,456.9 563.6,460.0 565.1,463.9 564.3,468.6 562.0,472.4 558.9,475.5 557.4,471.6 555.0,467.8 551.9,470.9 548.1,469.3 543.4,467.0 539.6,463.9 537.2,459.3 536.5,453.8 538.0,449.2 539.6,445.3 537.2,441.5 533.4,439.1 530.3,436.8 527.2,439.1 523.3,439.9 521.0,442.2 518.6,440.7 515.5,439.9 511.7,441.5 509.4,444.6 507.8,448.4 505.5,452.3 502.4,451.5 501.6,447.6 503.9,443.0 505.5,438.4 508.6,435.3 513.2,433.7 518.6,432.9 520.2,428.3 523.3,425.2 527.9,423.6 531.8,426.0 532.6,431.4 534.9,432.2 539.6,429.8 541.1,426.0 545.0,425.2 548.1,422.9 549.6,419.0 553.5,418.2 558.1,417.5 562.0,415.1 561.2,410.5 560.5,405.8"/>
<polyline points="500.1,457.7 503.2,456.6 505.2,458.5 504.2,460.8 501.1,461.3 500.1,457.7"/>
<polyline points="582.6,494.1 584.1,492.9 584.8,495.7 583.7,499.1 581.7,499.1 582.6,494.1"/>
<polyline points="519.2,555.1 526.2,556.6 532.4,555.9 538.6,553.6 543.2,550.5 547.1,546.6 550.2,542.7 553.3,541.2 557.2,542.7 556.4,545.8 553.3,548.9 550.2,553.6 547.1,558.2 543.2,562.1 537.0,564.4 529.3,565.2 523.9,564.4 519.2,562.1"/>
<polyline points="609.0,529.6 612.1,526.5 614.8,528.0 614.5,532.6 611.4,535.7 608.3,535.0 607.5,531.9 609.0,529.6"/>
<polyline points="596.6,541.2 599.0,536.5 601.3,535.0 603.6,538.8 604.4,543.5 602.8,548.9 599.0,552.8 595.9,553.6 594.0,549.7 595.1,545.0 596.6,541.2"/>
<polyline points="604.4,554.3 606.7,549.7 610.6,545.8 614.5,543.5 616.8,545.8 616.0,551.2 612.1,555.1 608.3,557.4 611.4,559.7 616.0,562.8 619.1,565.9 616.0,565.2 611.4,562.8 607.5,561.3 604.4,564.4 603.6,570.6 599.0,570.6 598.2,564.4 595.9,560.5 597.4,556.6 601.3,557.4 604.4,554.3"/>
<polyline points="582.2,494.7 583.8,493.6 584.4,497.0 583.2,499.4 581.9,497.8 582.2,494.7"/>
<polyline points="456.5,479.2 454.2,483.1 449.6,485.4 443.4,485.4 437.9,486.2 437.2,489.3 440.3,493.2 443.4,495.5 437.2,497.8 431.7,499.4 433.3,503.2 431.0,507.1 431.7,511.0 427.9,513.3 425.5,517.2 429.4,521.0 431.7,525.7 433.3,531.1 431.0,535.0 434.8,538.1 438.7,541.9 442.6,545.8 445.7,550.5 448.8,554.3 441.8,555.1 435.6,555.9 433.3,552.8 431.7,556.6 428.6,560.5 427.1,565.9 425.5,571.4"/>
<polyline points="520.8,554.3 514.6,554.3 508.4,552.0 502.2,551.2 496.0,552.0 492.1,549.7 488.3,548.1 484.4,548.1 482.1,551.2 479.0,555.1 474.3,557.4 469.7,559.0 467.4,562.8 466.6,571.4 471.2,571.4 472.0,565.2 475.9,562.1 482.1,561.3 489.8,561.3 499.1,561.3 508.4,562.1 516.1,563.6 520.8,563.6"/>
<polyline points="437.2,413.7 441.8,407.6 446.5,401.4 451.1,396.7 455.0,392.8 457.3,389.0 460.4,386.6 461.9,389.0 460.4,393.6 456.5,396.7 453.4,399.8 449.6,404.5 445.7,409.9 444.1,413.7"/>
<polyline points="184.3,478.5 187.4,486.2 189.0,492.4 188.2,498.6 186.6,504.8 187.4,511.0 189.7,517.2 192.1,523.4 195.2,528.8 197.5,534.2 199.8,538.8 201.4,542.7 200.6,546.6 196.7,547.4 193.6,545.8 190.5,546.6 188.2,545.8 184.3,541.9 179.7,538.1 174.3,535.0 168.8,531.9 163.4,528.0 158.0,524.9 154.1,521.0 152.6,516.4 149.5,510.2 146.4,504.8 143.3,500.1 141.0,494.7 141.7,489.3 140.2,484.6 137.1,478.5"/>
<polyline points="108.5,509.1 115.4,510.2 119.3,513.3 123.9,516.4 128.6,520.3 131.7,524.9 135.5,527.2 139.4,529.6 143.3,533.4 146.4,536.5 147.2,532.6 149.5,533.4 152.6,537.3 156.5,541.2 161.1,543.5 165.0,545.8 166.5,549.7 169.6,552.8 173.5,555.9 178.1,557.4 182.0,559.0 184.3,561.3 181.2,563.6 176.6,565.2 181.2,565.9 187.4,564.4 192.1,566.7 194.4,571.4"/>
<polyline points="154.1,535.0 157.2,534.2 159.9,536.5 158.8,539.6 155.7,540.4 153.4,538.1 154.1,535.0"/>
<polyline points="167.3,544.7 171.2,544.3 173.5,548.1 171.9,550.5 168.8,548.9 167.3,544.7"/>
<polyline points="174.3,550.5 178.1,551.2 181.5,554.3 182.8,557.4 179.7,556.6 175.8,554.3 174.3,550.5"/>
<polyline points="192.8,546.6 195.9,546.3 196.7,548.4 193.6,548.9 192.8,546.6"/>
<polyline points="204.1,551.5 207.2,550.9 208.3,554.0 205.7,555.6 203.8,554.0 204.1,551.5"/>
</g>
<g fill="#c0c0c0" stroke="none" shape-rendering="crispEdges">
<polygon points="255.6,284.1 253.3,279.9 250.2,276.0 247.1,271.4 243.2,267.5 240.1,263.6 239.4,257.4 235.5,253.6 231.6,250.5 227.7,247.4 225.9,243.5 227.0,241.2 228.5,235.7 229.3,229.6 230.8,225.7 234.7,224.1 238.6,221.0 240.9,217.9 240.9,213.3 242.5,210.2 242.5,207.1 247.1,207.9 253.3,207.1 256.4,203.2 259.5,200.1 261.8,197.8 266.5,195.5 269.6,194.7 274.2,190.8 277.3,194.7 281.9,196.3 285.0,198.6 288.9,196.3 292.0,193.9 294.3,196.3 298.2,197.8 297.4,203.2 295.9,207.9 297.4,213.3 298.7,217.2 299.9,220.6 302.4,221.2 305.9,218.4 308.3,216.4 306.7,213.3 304.4,211.0 302.8,207.1 305.2,204.8 305.2,200.1 307.5,203.2 310.6,199.4 316.0,197.8 322.2,196.3 328.4,193.9 334.6,193.2 340.8,191.6 340.8,36.0 108.5,36.0 108.5,284.1"/>
<polygon points="288.1,226.8 292.8,225.8 299.0,226.1 302.1,224.9 306.7,224.4 311.4,224.6 315.2,226.1 316.3,229.6 314.5,233.4 311.4,236.5 309.8,241.2 308.3,245.0 304.4,248.9 300.5,252.0 297.4,254.3 292.8,256.6 288.1,255.1 281.9,252.8 278.1,251.2 276.5,246.6 275.7,241.9 277.3,238.1 280.4,235.0 284.3,232.6 286.6,229.6"/>
<polygon points="339.3,191.2 343.2,194.3 347.0,191.9 350.1,188.8 349.4,183.4 348.6,179.6 351.7,180.3 353.2,185.0 355.5,184.2 357.1,176.5 356.3,169.5 358.6,168.7 360.2,174.9 361.7,181.1 364.1,183.4 366.4,180.3 370.3,179.6 374.9,177.2 379.6,174.9 383.4,175.7 388.1,173.4 391.9,175.7 396.6,174.1 402.8,172.6 407.4,171.0 410.5,167.9 409.0,163.3 412.8,162.5 416.7,159.4 421.4,157.9 424.5,154.8 429.1,153.2 433.0,148.6 432.2,144.7 436.8,142.4 441.5,140.1 445.4,135.4 450.8,131.9 450.8,35.5 339.3,35.5"/>
<polygon points="450.1,129.9 454.0,126.0 457.9,122.2 461.0,117.5 461.7,111.3 460.2,105.1 461.0,99.7 466.4,98.2 471.0,96.6 474.1,92.0 477.2,87.3 480.3,81.9 479.6,76.5 484.2,74.9 488.1,70.3 491.2,69.5 495.0,66.4 493.5,63.3 495.8,58.7 492.7,54.0 493.5,48.6 498.1,46.3 500.5,43.2 504.3,39.3 507.4,35.5 439.3,35.5 439.3,129.9"/>
<polygon points="493.4,128.5 497.3,129.3 500.4,132.4 499.6,138.6 498.1,146.3 495.7,153.3 493.4,161.0 491.1,168.0 487.2,175.0 484.1,179.6 483.4,185.0 482.6,189.7 480.3,188.9 479.5,184.3 476.4,181.2 473.3,176.5 471.7,170.3 471.0,163.4 472.5,156.4 475.6,149.4 479.5,141.7 484.1,134.7 488.8,130.8"/>
<polygon points="468.9,309.4 466.6,302.4 465.1,296.2 465.8,291.6 470.5,295.5 475.1,293.1 474.4,286.9 475.9,279.2 476.7,271.5 475.1,266.0 477.5,259.1 478.2,252.9 482.1,249.8 486.7,250.5 491.4,251.3 496.0,254.4 500.7,255.2 504.6,251.3 506.9,252.1 506.1,258.3 504.6,265.3 506.9,271.5 510.0,276.1 509.2,281.5 506.9,286.9 504.6,292.4 501.5,295.5 496.8,297.8 494.5,302.4 492.2,308.6"/>
<polygon points="460.4,378.1 462.0,382.8 461.2,387.4 459.6,393.6 456.5,396.7 454.2,396.7 454.2,381.2 458.1,379.7"/>
<polygon points="563.4,404.5 566.5,406.0 569.6,410.7 568.8,414.1 561.8,414.1 561.1,406.0"/>
<polygon points="502.2,356.1 504.6,354.9 504.2,361.1 501.8,362.0"/>
<polygon points="467.0,299.2 467.8,304.7 469.0,310.2 470.2,314.5 471.7,316.8 473.7,318.8 475.6,321.1 476.8,323.5 477.6,321.1 477.6,318.4 479.6,317.6 482.7,318.4 484.6,320.0 485.0,322.3 483.1,323.9 481.1,325.8 479.2,327.4 478.8,330.1 479.6,332.1 481.9,332.9 484.3,334.4 487.0,336.4 490.1,337.2 492.1,336.0 493.6,334.0 496.0,332.9 498.3,332.5 500.3,333.3 502.3,334.4 504.6,336.0 506.9,337.6 508.9,339.1 510.5,341.5 511.3,343.8 512.4,343.4 512.0,340.7 510.9,338.3 510.1,336.0 509.3,333.6 510.9,332.5 513.2,332.9 515.6,334.8 517.9,337.2 520.0,339.1 522.0,340.7 523.5,342.6 524.7,345.0 525.9,347.3 527.8,348.9 530.6,349.7 533.3,350.1 534.9,350.9 534.1,352.4 534.5,354.8 536.1,355.2 537.2,353.6 538.0,351.3 537.6,349.3 535.7,348.5 533.3,347.7 531.8,346.2 532.1,343.8 531.0,341.5 529.4,339.5 529.0,337.6 530.6,336.4 533.3,336.0 535.7,335.6 535.3,334.4 532.5,334.4 530.2,333.6 527.8,332.9 525.1,333.6 523.1,335.2 520.8,333.6 519.2,330.9 517.9,327.0 514.8,325.8 511.6,326.2 509.3,327.8 507.7,330.1 506.6,332.1 504.6,331.3 502.3,330.1 499.9,328.6 497.9,326.6 496.4,323.5 495.2,320.3 494.0,316.8 492.9,313.3 491.7,309.8 492.1,307.0 493.6,303.9 494.8,299.2"/>
<polygon points="499.9,314.5 502.3,313.7 503.0,315.6 502.6,319.6 500.7,320.3 499.9,318.0"/>
<polygon points="537.3,333.5 539.2,330.9 541.8,331.6 543.1,334.8 541.2,338.0 538.6,338.7 537.0,336.8"/>
<polygon points="476.1,340.5 481.1,339.1 486.9,339.9 491.2,342.7 493.9,347.0 494.2,351.9 492.8,356.9 489.8,361.2 486.9,359.8 484.7,355.5 482.5,350.5 480.3,345.5 477.5,342.7"/>
<polygon points="500.0,340.6 503.0,340.0 503.9,342.6 502.3,344.5 500.4,343.9"/>
<polygon points="523.7,359.4 526.9,358.1 529.5,360.0 532.1,362.6 535.3,366.5 536.6,369.1 534.7,368.4 531.4,365.9 528.2,363.9 525.0,364.6 523.0,362.0"/>
<polygon points="501.7,356.8 503.9,356.2 503.4,360.7 501.7,363.3 500.8,360.7"/>
<polygon points="511.1,357.8 514.0,358.7 513.3,360.7 510.8,360.0"/>
<polygon points="503.3,369.7 507.2,371.0 511.0,372.9 515.6,374.2 519.5,373.6 521.4,376.2 520.1,379.4 517.5,382.0 514.3,384.6 511.0,386.5 507.8,388.5 504.6,390.4 502.0,392.3 500.7,389.8 501.3,385.2 502.6,380.7 503.3,375.5"/>
<polygon points="520.1,385.2 523.3,383.9 526.6,385.2 527.2,389.1 525.9,393.6 524.0,398.8 522.0,404.0 522.7,409.2 523.3,413.0 520.8,415.6 518.2,415.0 516.9,411.1 514.3,408.5 510.4,407.2 509.1,404.0 511.7,401.4 515.6,400.1 517.5,396.2 518.2,391.0 518.8,387.8"/>
<polygon points="535.0,380.7 536.3,383.9 535.0,389.1 532.4,394.3 529.8,398.8 527.2,403.3 525.3,407.2 524.6,404.6 526.6,400.1 529.2,394.9 531.1,389.8 532.4,385.2 533.7,382.0"/>
<polygon points="533.7,402.7 536.3,400.1 540.2,398.6 543.4,399.5 544.7,402.0 543.4,404.6 540.2,406.3 536.3,406.6 534.1,405.3"/>
<polygon points="542.1,372.9 544.7,374.2 547.3,378.1 549.9,379.4 552.4,383.3 553.7,387.8 555.0,392.3 554.4,396.9 551.8,397.5 549.9,394.9 549.2,390.4 547.3,385.9 544.7,382.0 542.7,377.5"/>
<polygon points="541.8,358.1 546.3,356.8 552.8,356.2 557.3,358.1 559.9,362.0 560.6,367.2 561.2,373.6 562.5,378.8 563.4,378.1 560.9,380.1 557.6,378.1 555.0,375.5 551.8,372.3 548.6,367.8 544.7,363.2 542.1,360.0"/>
<polygon points="560.5,405.8 563.6,405.1 566.6,408.9 569.7,410.5 572.8,413.6 574.4,419.8 573.6,425.2 575.9,428.3 576.7,433.7 579.0,438.4 579.8,444.6 578.3,449.2 575.2,452.3 573.6,456.9 573.6,463.1 572.1,460.0 571.3,454.6 569.0,450.0 566.6,446.1 564.3,448.4 562.8,453.1 561.2,456.9 563.6,460.0 565.1,463.9 564.3,468.6 562.0,472.4 558.9,475.5 557.4,471.6 555.0,467.8 551.9,470.9 548.1,469.3 543.4,467.0 539.6,463.9 537.2,459.3 536.5,453.8 538.0,449.2 539.6,445.3 537.2,441.5 533.4,439.1 530.3,436.8 527.2,439.1 523.3,439.9 521.0,442.2 518.6,440.7 515.5,439.9 511.7,441.5 509.4,444.6 507.8,448.4 505.5,452.3 502.4,451.5 501.6,447.6 503.9,443.0 505.5,438.4 508.6,435.3 513.2,433.7 518.6,432.9 520.2,428.3 523.3,425.2 527.9,423.6 531.8,426.0 532.6,431.4 534.9,432.2 539.6,429.8 541.1,426.0 545.0,425.2 548.1,422.9 549.6,419.0 553.5,418.2 558.1,417.5 562.0,415.1 561.2,410.5"/>
<polygon points="500.1,457.7 503.2,456.6 505.2,458.5 504.2,460.8 501.1,461.3"/>
<polygon points="582.6,494.1 584.1,492.9 584.8,495.7 583.7,499.1 581.7,499.1"/>
<polygon points="519.2,555.1 526.2,556.6 532.4,555.9 538.6,553.6 543.2,550.5 547.1,546.6 550.2,542.7 553.3,541.2 557.2,542.7 556.4,545.8 553.3,548.9 550.2,553.6 547.1,558.2 543.2,562.1 537.0,564.4 529.3,565.2 523.9,564.4 519.2,562.1"/>
<polygon points="609.0,529.6 612.1,526.5 614.8,528.0 614.5,532.6 611.4,535.7 608.3,535.0 607.5,531.9"/>
<polygon points="596.6,541.2 599.0,536.5 601.3,535.0 603.6,538.8 604.4,543.5 602.8,548.9 599.0,552.8 595.9,553.6 594.0,549.7 595.1,545.0"/>
<polygon points="604.4,554.3 606.7,549.7 610.6,545.8 614.5,543.5 616.8,545.8 616.0,551.2 612.1,555.1 608.3,557.4 611.4,559.7 616.0,562.8 619.1,565.9 616.0,565.2 611.4,562.8 607.5,561.3 604.4,564.4 603.6,570.6 599.0,570.6 598.2,564.4 595.9,560.5 597.4,556.6 601.3,557.4"/>
<polygon points="582.2,494.7 583.8,493.6 584.4,497.0 583.2,499.4 581.9,497.8"/>
<polygon points="456.5,479.2 454.2,483.1 449.6,485.4 443.4,485.4 437.9,486.2 437.2,489.3 440.3,493.2 443.4,495.5 437.2,497.8 431.7,499.4 433.3,503.2 431.0,507.1 431.7,511.0 427.9,513.3 425.5,517.2 429.4,521.0 431.7,525.7 433.3,531.1 431.0,535.0 434.8,538.1 438.7,541.9 442.6,545.8 445.7,550.5 448.8,554.3 441.8,555.1 435.6,555.9 433.3,552.8 431.7,556.6 428.6,560.5 427.1,565.9 425.5,571.4 399.2,571.4 399.2,479.2"/>
<polygon points="520.8,554.3 514.6,554.3 508.4,552.0 502.2,551.2 496.0,552.0 492.1,549.7 488.3,548.1 484.4,548.1 482.1,551.2 479.0,555.1 474.3,557.4 469.7,559.0 467.4,562.8 466.6,571.4 471.2,571.4 472.0,565.2 475.9,562.1 482.1,561.3 489.8,561.3 499.1,561.3 508.4,562.1 516.1,563.6 520.8,563.6"/>
<polygon points="288.5,535.8 293.1,535.8 296.2,539.7 300.1,542.0 304.7,540.5 308.6,541.2 313.2,543.6 317.9,542.8 318.6,536.6 321.0,531.9 321.7,523.4 324.8,522.6 330.3,521.9 336.5,520.3 342.6,518.8 348.8,517.2 353.5,513.4 358.1,507.2 362.8,502.5 365.9,497.9 367.4,493.2 371.3,492.5 375.2,490.9 379.8,487.0 382.9,486.3 386.8,485.5 390.7,484.7 393.7,481.6 390.7,479.3 395.3,476.2 399.9,473.9 402.3,469.2 413.9,469.2 413.9,572.2 288.5,572.2"/>
<polygon points="379.2,487.9 383.9,486.4 389.3,483.3 391.6,479.4 395.5,477.8 399.4,474.0 402.5,469.3 405.5,465.5 408.6,461.6 411.7,459.3 412.8,453.1 414.8,454.6 415.6,458.5 418.7,454.6 420.6,453.1 422.6,456.9 425.7,460.0 428.0,463.1 429.6,467.8 431.9,470.9 435.7,472.4 439.6,473.2 443.5,475.5 446.6,477.8 451.2,478.6 455.9,480.2 455.1,483.3 451.2,484.8 446.6,485.6 441.9,486.4 438.1,487.9 440.4,491.8 441.9,495.7 443.8,500.3 379.2,500.3"/>
<polygon points="456.6,394.2 452.8,398.1 448.9,402.0 447.4,406.6 445.0,410.5 441.2,412.8 437.3,415.1 433.4,418.2 429.6,421.3 425.7,424.4 422.6,427.5 421.0,430.6 418.7,432.9 417.2,436.8 416.4,433.7 417.9,429.8 421.0,426.0 424.1,422.1 428.0,418.2 431.9,414.4 436.5,411.3 441.2,408.2 444.3,404.3 446.6,399.6 449.7,395.8 452.0,394.2"/>
<polygon points="419.0,446.9 421.5,445.8 422.6,448.4 420.6,449.5"/>
<polygon points="437.2,413.7 441.8,407.6 446.5,401.4 451.1,396.7 455.0,392.8 457.3,389.0 460.4,386.6 461.9,389.0 460.4,393.6 456.5,396.7 453.4,399.8 449.6,404.5 445.7,409.9 444.1,413.7"/>
<polygon points="242.6,268.5 246.5,274.6 251.1,279.3 255.7,283.9 261.2,288.6 266.6,292.5 271.2,297.1 275.1,303.3 279.0,307.9 281.3,312.6 282.8,318.0 284.4,324.2 285.9,330.4 287.5,338.1 288.3,345.9 289.0,350.5 288.3,355.2 286.7,359.8 285.9,366.0 285.2,374.1 200.0,374.1 200.0,268.5"/>
<polygon points="286.7,358.5 285.9,364.6 285.2,369.3 282.8,373.9 279.0,377.8 274.3,380.9 269.7,384.0 265.0,386.3 260.4,389.4 255.0,391.7 251.1,394.1 246.5,396.4 243.4,399.5 241.0,404.1 237.9,408.0 233.3,411.1 228.6,413.4 223.2,415.7 219.4,419.6 215.5,423.5 212.4,424.3 211.6,419.6 212.4,412.6 213.9,406.5 214.7,401.8 210.8,398.7 207.0,394.8 204.6,392.5 199.2,391.0 199.2,358.5"/>
<polygon points="134.8,434.1 133.2,427.6 129.4,424.5 128.6,418.3 129.4,413.6 124.7,412.8 120.1,414.4 117.7,412.1 117.0,405.9 116.2,399.7 117.7,393.5 120.1,388.1 122.4,382.6 124.7,376.5 127.0,371.0 129.4,365.6 130.1,359.4 130.1,353.2 129.4,345.5 130.9,341.6 136.3,340.1 142.5,340.1 147.2,340.8 146.4,345.5 144.8,350.1 144.1,354.0 148.7,354.8 154.9,354.8 159.6,354.0 163.4,356.3 167.3,359.4 170.4,364.1 175.0,366.4 178.1,370.3 181.2,374.9 183.6,379.6 184.3,384.2 187.4,384.2 189.0,380.3 192.8,381.9 193.6,385.7 190.5,389.6 194.4,391.2 198.3,391.9 202.9,393.5 206.8,395.0 210.7,397.4 215.3,399.7 216.8,402.8 213.7,404.3 213.0,410.5 213.0,416.7 212.2,423.7 218.4,410.5 230.8,391.9 230.8,283.5 108.5,283.5 108.5,434.1"/>
<polygon points="154.1,524.1 152.6,519.1 150.3,512.9 147.2,506.7 143.3,502.1 141.0,497.4 141.7,492.8 140.2,488.1 137.9,481.9 137.1,475.7 136.3,469.6 134.8,464.9 133.2,460.3 129.4,457.2 126.3,453.3 124.7,448.6 121.6,444.8 117.7,440.1 115.4,436.3 108.5,434.7 108.5,429.3 134.8,429.3 135.5,435.5"/>
<polygon points="135.5,435.5 137.1,441.7 139.4,447.1 143.3,451.0 148.7,453.3 153.4,453.3 156.5,455.6 160.3,459.5 164.2,463.4 169.6,466.5 171.9,471.1 176.6,474.2 180.5,478.1 184.3,481.9 186.6,486.6 188.2,492.0 188.2,497.4 186.6,503.6 187.4,508.3 185.9,512.9 186.6,519.1 187.4,524.1 154.1,524.1 137.1,475.7 126.3,453.3"/>
<polygon points="108.5,509.0 116.2,511.4 120.8,515.2 125.5,519.1 130.1,524.1 108.5,524.1"/>
<polygon points="133.7,477.6 135.7,477.3 136.3,480.7 134.2,481.3"/>
<polygon points="184.3,478.5 187.4,486.2 189.0,492.4 188.2,498.6 186.6,504.8 187.4,511.0 189.7,517.2 192.1,523.4 195.2,528.8 197.5,534.2 199.8,538.8 201.4,542.7 200.6,546.6 196.7,547.4 193.6,545.8 190.5,546.6 188.2,545.8 184.3,541.9 179.7,538.1 174.3,535.0 168.8,531.9 163.4,528.0 158.0,524.9 154.1,521.0 152.6,516.4 149.5,510.2 146.4,504.8 143.3,500.1 141.0,494.7 141.7,489.3 140.2,484.6 137.1,478.5"/>
<polygon points="108.5,509.1 115.4,510.2 119.3,513.3 123.9,516.4 128.6,520.3 131.7,524.9 135.5,527.2 139.4,529.6 143.3,533.4 146.4,536.5 147.2,532.6 149.5,533.4 152.6,537.3 156.5,541.2 161.1,543.5 165.0,545.8 166.5,549.7 169.6,552.8 173.5,555.9 178.1,557.4 182.0,559.0 184.3,561.3 181.2,563.6 176.6,565.2 181.2,565.9 187.4,564.4 192.1,566.7 194.4,571.4 125.5,571.4 120.8,568.3 116.2,565.2 108.5,562.1"/>
<polygon points="154.1,535.0 157.2,534.2 159.9,536.5 158.8,539.6 155.7,540.4 153.4,538.1"/>
<polygon points="167.3,544.7 171.2,544.3 173.5,548.1 171.9,550.5 168.8,548.9"/>
<polygon points="174.3,550.5 178.1,551.2 181.5,554.3 182.8,557.4 179.7,556.6 175.8,554.3"/>
<polygon points="192.8,546.6 195.9,546.3 196.7,548.4 193.6,548.9"/>
<polygon points="204.1,551.5 207.2,550.9 208.3,554.0 205.7,555.6 203.8,554.0"/>
<polygon points="292.9,535.8 289.0,537.4 286.7,541.2 284.4,545.9 281.3,549.7 282.8,554.4 281.3,559.0 282.1,564.5 284.4,569.1 285.5,573.0 299.1,573.0 299.1,536.6"/>
<polygon points="268.9,499.4 272.0,503.3 271.2,507.2 268.1,508.7 265.8,504.8 266.6,501.7"/>
</g>
<g fill="none" stroke="#000" stroke-linejoin="miter" shape-rendering="crispEdges">
<polyline stroke-width="1" points="110.0,167.5 121.3,168.8 122.5,171.3 119.5,176.3 117.5,185.0 123.8,187.5 130.0,190.1 133.8,196.3 140.0,197.6 147.5,193.8 150.1,195.1 149.5,200.1 145.0,200.1 140.0,206.3 133.8,211.3 132.5,216.3 125.0,217.6 120.0,220.1 113.8,225.1 110.0,228.1"/>
<polyline stroke-width="1" points="149.5,198.8 152.6,202.6 158.8,203.8 160.1,197.6 158.8,191.3 157.6,182.5 160.1,180.0 165.1,181.3 168.8,178.8 172.6,175.0 178.8,177.5 185.1,176.3 187.6,178.8 190.1,175.0 196.4,176.3 203.9,173.8 211.4,167.5 220.1,163.8 225.1,168.8 235.2,171.3 245.2,173.8 241.4,180.0 243.9,187.5 250.2,192.6 257.7,195.1 265.2,196.3 272.7,192.1"/>
<polyline stroke-width="1" points="168.8,178.8 171.3,183.8 176.3,191.3 180.1,193.8 178.8,200.1 182.6,207.6 187.6,211.3 193.9,211.3 200.1,208.1 206.4,212.6 208.9,216.3 206.4,220.1 212.6,222.6 213.9,226.3 208.9,230.1 200.1,231.4 196.4,237.6 202.6,241.4 210.1,245.1 217.6,250.1 221.4,257.6 227.6,262.6 232.2,267.1"/>
<polyline stroke-width="1" points="132.5,216.3 135.0,220.1 137.5,225.1 136.3,230.1 141.3,233.9 150.1,232.6 151.3,237.6 152.6,243.9 150.1,250.1 148.8,257.6 147.5,265.1 146.3,269.6 153.8,265.1 163.8,257.6 171.3,258.9 175.1,263.9 182.6,257.6 187.6,253.9 196.4,256.4 202.6,263.9 208.9,267.6 211.4,272.7"/>
<polyline stroke-width="1.3" points="301.3,160.9 305.0,159.7 312.5,162.2 322.5,161.4"/>
<polyline stroke-width="1" points="399.2,497.3 404.6,495.5 412.4,496.3 420.1,496.3 424.0,497.8 427.6,499.8"/>
<polyline stroke-width="1" points="371.3,493.2 374.4,498.6 378.3,501.7 380.6,497.9 381.4,491.7 381.4,487.8"/>
<polyline stroke-width="1" points="384.5,487.0 385.2,493.2 386.8,496.3 389.1,497.1 388.3,492.5 387.6,487.0"/>
<polyline stroke-width="1" points="292.3,536.6 294.6,542.8 299.3,548.2 303.9,552.8 308.6,555.2 313.2,553.6 321.0,552.8 328.7,552.1 334.9,550.5 337.2,545.9 341.1,544.3 348.8,543.6 351.9,545.9 359.7,548.2 365.9,545.9 373.6,545.1 378.3,542.8 380.6,536.6 381.4,531.9 385.2,528.1 386.8,522.6 389.1,518.8 392.2,514.9 393.7,508.7 394.5,502.5 396.8,498.6 401.5,497.1 406.1,497.9 413.9,496.0"/>
<polyline stroke-width="1" points="232.2,267.1 232.8,270.8 235.6,273.1 238.7,277.7 241.8,282.4 244.9,287.0 249.6,290.9 254.2,294.0 255.0,297.9 251.9,300.2 254.2,303.3 258.1,306.4 260.4,309.5 258.8,314.1 258.1,319.6 255.0,321.9 254.2,327.3 256.5,331.9 258.8,338.1 258.1,344.3 257.3,350.5 258.1,358.3 254.2,360.6 249.6,362.9 244.9,364.5 240.3,366.8 237.9,369.9 237.2,374.1"/>
<polyline stroke-width="1" points="255.0,321.9 249.6,324.2 245.7,325.0 241.0,321.9 236.4,323.4 232.5,325.0 231.0,328.8 230.2,329.6"/>
<polyline stroke-width="1" points="210.5,269.2 211.6,276.2 210.8,283.9 213.9,290.1 218.6,294.8 221.7,296.3 223.2,301.0 224.8,306.4 223.2,311.8 224.0,318.0 223.2,323.4 219.4,325.7 221.7,328.8 225.5,329.6 230.2,329.6"/>
<polyline stroke-width="1" points="199.2,325.0 204.6,324.2 210.8,323.4 215.5,325.0 219.4,325.7"/>
<polyline stroke-width="1" points="230.2,329.6 229.4,335.0 230.2,341.2 231.7,345.9 232.5,350.5"/>
<polyline stroke-width="1" points="211.6,366.8 213.9,368.3 218.6,367.6 223.2,364.5 224.0,362.1"/>
<polyline stroke-width="1" points="252.6,360.0 248.0,363.1 243.4,365.4 238.7,367.0 234.8,370.1 230.2,371.6 228.6,375.5 231.7,379.4 234.8,382.5 233.3,384.8 228.6,383.2 223.2,384.0 219.4,385.5 216.3,387.9 212.4,389.4 207.7,391.7 205.4,393.3"/>
<polyline stroke-width="1" points="215.5,375.5 216.3,383.2 218.6,389.4 223.2,394.1 229.4,398.7 235.6,404.1 239.5,407.2"/>
<polyline stroke-width="1" points="227.9,396.4 232.5,401.8 237.2,406.5"/>
<polyline stroke-width="1" points="211.6,367.0 213.9,370.8 215.5,375.5 217.0,380.1"/>
<polyline stroke-width="1" points="220.1,364.6 224.0,362.3"/>
<polyline stroke-width="1" points="114.6,330.0 117.0,336.2 116.2,343.9 118.5,350.1 120.8,356.3 122.4,362.5 124.7,368.7 125.5,371.8 121.6,374.9 117.7,379.6 114.6,383.4 112.3,386.5 110.0,388.8"/>
<polyline stroke-width="1" points="178.9,330.0 175.8,333.9 171.2,337.7 169.6,340.8 171.9,347.0 173.5,353.2 175.8,357.9 177.4,363.3 178.9,368.7"/>
<polyline stroke-width="1" points="207.6,395.0 210.7,391.9 216.1,389.6 218.4,387.3 221.5,385.0 226.1,383.4 230.8,384.2"/>
<polyline stroke-width="1" points="211.4,366.4 213.7,371.0 216.8,374.9 218.4,381.1 216.8,387.3 219.9,389.6 223.0,391.9 225.4,395.0"/>
<polyline stroke-width="1" points="178.8,330.0 182.0,325.5 190.5,323.8 199.2,324.5"/>
<polyline stroke-width="1" points="134.0,457.2 137.1,459.5 141.7,461.0 144.8,464.1 148.7,464.9 148.7,469.6 147.2,472.6 150.3,475.0 154.1,471.9 159.6,471.9 164.2,469.6 165.7,465.7 167.6,466.1"/>
</g>
<defs><pattern id="sp" width="9" height="9" patternUnits="userSpaceOnUse"><rect x="0" y="0" width="1" height="1" fill="#000"/><rect x="1" y="0" width="1" height="1" fill="#000"/><rect x="2" y="0" width="1" height="1" fill="#000"/><rect x="3" y="0" width="1" height="1" fill="#000"/><rect x="4" y="0" width="1" height="1" fill="#000"/><rect x="5" y="0" width="1" height="1" fill="#000"/><rect x="6" y="0" width="1" height="1" fill="#000"/><rect x="7" y="0" width="1" height="1" fill="#000"/><rect x="8" y="0" width="1" height="1" fill="#000"/><rect x="0" y="1" width="1" height="1" fill="#000"/><rect x="1" y="1" width="1" height="1" fill="#000"/><rect x="2" y="1" width="1" height="1" fill="#000"/><rect x="3" y="1" width="1" height="1" fill="#000"/><rect x="5" y="1" width="1" height="1" fill="#000"/><rect x="6" y="1" width="1" height="1" fill="#000"/><rect x="7" y="1" width="1" height="1" fill="#000"/><rect x="0" y="2" width="1" height="1" fill="#000"/><rect x="1" y="2" width="1" height="1" fill="#000"/><rect x="3" y="2" width="1" height="1" fill="#000"/><rect x="5" y="2" width="1" height="1" fill="#000"/><rect x="6" y="2" width="1" height="1" fill="#000"/><rect x="7" y="2" width="1" height="1" fill="#000"/><rect x="8" y="2" width="1" height="1" fill="#000"/><rect x="1" y="3" width="1" height="1" fill="#000"/><rect x="2" y="3" width="1" height="1" fill="#000"/><rect x="3" y="3" width="1" height="1" fill="#000"/><rect x="4" y="3" width="1" height="1" fill="#000"/><rect x="5" y="3" width="1" height="1" fill="#000"/><rect x="6" y="3" width="1" height="1" fill="#000"/><rect x="7" y="3" width="1" height="1" fill="#000"/><rect x="8" y="3" width="1" height="1" fill="#000"/><rect x="0" y="4" width="1" height="1" fill="#c0c0c0"/><rect x="1" y="4" width="1" height="1" fill="#000"/><rect x="2" y="4" width="1" height="1" fill="#000"/><rect x="3" y="4" width="1" height="1" fill="#000"/><rect x="4" y="4" width="1" height="1" fill="#000"/><rect x="5" y="4" width="1" height="1" fill="#000"/><rect x="7" y="4" width="1" height="1" fill="#c0c0c0"/><rect x="8" y="4" width="1" height="1" fill="#000"/><rect x="0" y="5" width="1" height="1" fill="#000"/><rect x="1" y="5" width="1" height="1" fill="#000"/><rect x="3" y="5" width="1" height="1" fill="#c0c0c0"/><rect x="4" y="5" width="1" height="1" fill="#000"/><rect x="6" y="5" width="1" height="1" fill="#000"/><rect x="7" y="5" width="1" height="1" fill="#000"/><rect x="0" y="6" width="1" height="1" fill="#000"/><rect x="1" y="6" width="1" height="1" fill="#000"/><rect x="2" y="6" width="1" height="1" fill="#000"/><rect x="3" y="6" width="1" height="1" fill="#000"/><rect x="5" y="6" width="1" height="1" fill="#000"/><rect x="7" y="6" width="1" height="1" fill="#000"/><rect x="8" y="6" width="1" height="1" fill="#c0c0c0"/><rect x="0" y="7" width="1" height="1" fill="#000"/><rect x="1" y="7" width="1" height="1" fill="#000"/><rect x="2" y="7" width="1" height="1" fill="#000"/><rect x="5" y="7" width="1" height="1" fill="#000"/><rect x="6" y="7" width="1" height="1" fill="#000"/><rect x="7" y="7" width="1" height="1" fill="#000"/><rect x="8" y="7" width="1" height="1" fill="#c0c0c0"/><rect x="0" y="8" width="1" height="1" fill="#000"/><rect x="3" y="8" width="1" height="1" fill="#000"/><rect x="4" y="8" width="1" height="1" fill="#000"/><rect x="5" y="8" width="1" height="1" fill="#000"/><rect x="6" y="8" width="1" height="1" fill="#000"/><rect x="7" y="8" width="1" height="1" fill="#000"/><rect x="8" y="8" width="1" height="1" fill="#000"/></pattern></defs>
<g fill="#000" shape-rendering="crispEdges">
<polygon fill="url(#sp)" points="242.5,206.0 247.1,206.6 253.3,205.5 254.4,207.6 251.0,210.2 246.3,211.0 242.5,210.7"/><polygon fill="url(#sp)" points="254.8,203.2 257.2,200.9 260.6,199.8 260.0,202.5 257.2,205.1"/><polygon fill="url(#sp)" points="271.1,193.2 274.2,190.1 277.6,193.9 275.7,195.5 272.6,195.2"/><polygon fill="url(#sp)" points="290.5,195.5 292.0,193.0 294.0,195.5 292.8,196.7"/><circle cx="232.7" cy="212.8" r="0.6"/><circle cx="261.0" cy="222.6" r="0.6"/><circle cx="303.6" cy="209.4" r="0.9"/><polygon fill="url(#sp)" points="338.5,190.7 343.2,191.6 347.0,191.2 347.3,193.2 343.6,195.0 339.6,192.7"/><polygon fill="url(#sp)" points="348.3,179.2 351.7,179.9 353.5,184.2 353.2,189.6 350.1,190.1 349.2,184.2"/><polygon fill="url(#sp)" points="355.5,167.9 359.1,168.4 360.7,174.9 359.1,176.5 356.9,176.1"/><polygon fill="url(#sp)" points="364.8,179.9 370.6,178.3 375.7,176.5 376.5,181.1 374.1,186.5 368.7,189.6 365.3,187.6 367.2,183.4"/><polygon fill="url(#sp)" points="361.0,185.7 363.3,187.6 362.5,190.7 360.7,188.8"/><polygon fill="url(#sp)" points="376.5,174.9 380.3,173.7 381.1,177.2 378.0,178.3"/><polygon fill="url(#sp)" points="408.7,162.2 413.3,161.7 414.4,164.4 410.8,168.7 409.3,167.2"/><polygon fill="url(#sp)" points="421.0,154.8 424.8,153.2 429.1,152.9 428.5,156.0 424.5,159.1 421.7,158.6"/><polygon fill="url(#sp)" points="430.7,143.6 436.8,139.6 439.2,140.8 436.8,145.5 433.0,147.3"/><polygon fill="url(#sp)" points="443.8,134.6 447.7,131.2 450.8,130.8 450.8,134.6 446.1,138.1"/><circle cx="347.8" cy="172.1" r="0.6"/><circle cx="412.8" cy="212.5" r="0.6"/><circle cx="391.2" cy="176.1" r="0.9"/><circle cx="402.6" cy="48.3" r="1.0"/><circle cx="407.6" cy="55.0" r="1.0"/><circle cx="450.2" cy="47.5" r="1.3"/><circle cx="400.1" cy="40.0" r="1.0"/><circle cx="406.4" cy="41.5" r="1.0"/><polygon fill="url(#sp)" points="460.2,98.9 466.4,97.7 470.6,96.6 471.0,100.5 468.7,105.1 469.5,109.0 464.8,109.8 461.7,111.0 460.3,105.1"/><polygon fill="url(#sp)" points="453.2,125.3 458.6,121.4 463.3,120.6 466.9,122.9 464.8,127.6 459.4,129.9 454.8,129.9"/><polygon fill="url(#sp)" points="449.4,129.9 453.2,128.4 454.8,132.2 451.7,134.2"/><polygon fill="url(#sp)" points="444.7,133.8 448.3,132.7 449.4,136.1 447.0,138.4 445.2,137.7"/><polygon fill="url(#sp)" points="492.2,48.6 498.1,45.5 502.5,46.3 502.8,51.7 500.5,56.4 496.6,57.4 493.2,54.3"/><polygon fill="url(#sp)" points="478.3,75.7 484.2,74.2 488.5,69.2 491.9,69.8 491.2,74.9 487.3,81.1 482.6,81.9 479.9,79.6"/><polygon fill="url(#sp)" points="495.8,60.2 500.5,60.2 501.5,64.9 498.1,66.7 495.0,65.6"/><polygon fill="url(#sp)" points="474.1,91.2 477.2,86.9 479.9,88.1 476.5,94.3"/><polygon fill="url(#sp)" points="500.5,41.6 504.3,38.2 507.1,38.9 504.3,44.0"/><circle cx="450.1" cy="47.5" r="0.9"/><circle cx="476.9" cy="107.9" r="0.6"/><circle cx="487.0" cy="87.3" r="0.6"/><circle cx="506.3" cy="60.2" r="0.6"/><circle cx="503.6" cy="121.9" r="0.5"/><circle cx="527.6" cy="119.8" r="0.6"/><circle cx="460.9" cy="160.0" r="1.7" fill="url(#sp)"/><circle cx="460.9" cy="160.0" r="0.9"/><circle cx="459.8" cy="165.2" r="0.9"/><circle cx="494.2" cy="188.1" r="1.1"/><circle cx="500.4" cy="210.6" r="1.1"/><circle cx="519.7" cy="144.0" r="0.6"/><circle cx="547.9" cy="139.4" r="0.8"/><circle cx="503.5" cy="121.9" r="0.5"/><circle cx="493.4" cy="177.0" r="0.5"/><polygon fill="url(#sp)" points="498.5,219.1 501.9,216.0 503.2,217.2 500.4,220.3"/><polygon fill="url(#sp)" points="530.1,145.5 532.9,143.2 536.8,144.8 536.3,148.2 532.6,149.1"/><polygon fill="url(#sp)" points="537.2,144.5 540.7,141.7 543.0,142.5 540.7,146.3 538.3,146.6"/><polygon fill="url(#sp)" points="555.4,135.5 558.5,134.7 560.0,137.8 559.2,140.9 556.1,139.4"/><polygon fill="url(#sp)" points="596.9,113.3 598.9,106.2 604.7,100.4 609.2,98.8 610.1,101.7 606.0,105.6 602.7,110.7 599.8,114.4"/><polygon fill="url(#sp)" points="590.2,111.0 595.6,109.7 596.3,111.8 591.1,113.1"/><polygon fill="url(#sp)" points="622.8,75.8 624.7,70.9 632.5,66.5 633.4,69.3 628.2,74.3 624.3,77.4"/><circle cx="581.7" cy="108.2" r="0.9"/><circle cx="583.7" cy="108.2" r="0.6"/><circle cx="619.6" cy="81.6" r="1.2"/><circle cx="614.4" cy="88.7" r="1.0"/><circle cx="607.3" cy="79.7" r="0.5"/><circle cx="630.6" cy="40.9" r="0.4"/><circle cx="635.7" cy="41.5" r="0.5"/><circle cx="633.1" cy="46.1" r="0.5"/><circle cx="630.6" cy="48.6" r="0.5"/><circle cx="624.1" cy="54.5" r="0.5"/><circle cx="603.4" cy="95.5" r="0.8"/><circle cx="591.1" cy="104.3" r="0.5"/><circle cx="492.9" cy="237.1" r="1.4" fill="url(#sp)"/><circle cx="492.9" cy="237.1" r="0.8"/><circle cx="501.5" cy="233.5" r="0.9"/><circle cx="489.8" cy="241.7" r="1.1"/><circle cx="500.7" cy="244.8" r="1.4" fill="url(#sp)"/><circle cx="500.7" cy="244.8" r="0.8"/><circle cx="491.4" cy="245.1" r="0.8"/><circle cx="501.5" cy="317.9" r="1.7" fill="url(#sp)"/><circle cx="501.5" cy="317.9" r="0.9"/><circle cx="506.1" cy="318.7" r="0.9"/><circle cx="472.0" cy="317.6" r="0.9"/><polygon fill="url(#sp)" points="466.6,362.6 470.5,361.9 474.8,363.4 474.4,367.3 471.3,369.6 469.7,371.9 467.1,371.2 468.2,366.5"/><polygon fill="url(#sp)" points="458.1,376.6 461.2,375.8 462.7,379.7 460.4,382.8 458.4,381.2"/><polygon fill="url(#sp)" points="561.8,396.7 565.3,394.4 566.8,399.0 564.2,402.9 562.2,401.4"/><polygon fill="url(#sp)" points="547.9,369.6 551.8,368.8 553.3,372.7 550.2,374.7"/><circle cx="510.0" cy="358.8" r="1.4" fill="url(#sp)"/><circle cx="510.0" cy="358.8" r="0.8"/><circle cx="512.6" cy="359.9" r="0.8"/><circle cx="492.9" cy="365.0" r="0.8"/><circle cx="482.1" cy="376.6" r="0.6"/><circle cx="487.5" cy="385.9" r="0.8"/><circle cx="480.5" cy="334.8" r="0.9"/><circle cx="475.1" cy="341.0" r="0.8"/><circle cx="496.8" cy="350.0" r="0.6"/><circle cx="502.7" cy="365.7" r="1.1"/><circle cx="503.3" cy="369.6" r="0.8"/><circle cx="539.4" cy="365.0" r="0.9"/><circle cx="543.3" cy="368.1" r="0.9"/><circle cx="544.0" cy="372.7" r="1.1"/><circle cx="532.1" cy="380.5" r="0.8"/><circle cx="555.3" cy="399.0" r="0.9"/><circle cx="561.8" cy="393.6" r="0.8"/><circle cx="544.8" cy="403.7" r="0.6"/><circle cx="512.3" cy="390.5" r="0.9"/><circle cx="501.5" cy="391.3" r="0.8"/><circle cx="472.0" cy="389.0" r="0.6"/><circle cx="465.8" cy="390.5" r="0.6"/><circle cx="469.7" cy="335.5" r="0.8"/><circle cx="475.1" cy="337.9" r="0.6"/><circle cx="535.5" cy="351.0" r="1.2"/><circle cx="537.8" cy="347.2" r="0.9"/><circle cx="525.5" cy="356.5" r="0.9"/><circle cx="519.7" cy="347.2" r="0.8"/><circle cx="501.5" cy="330.1" r="0.9"/><circle cx="504.6" cy="324.7" r="0.8"/><circle cx="518.2" cy="323.2" r="0.8"/><circle cx="532.1" cy="356.5" r="0.8"/><circle cx="474.9" cy="340.7" r="0.6"/><circle cx="506.9" cy="316.8" r="0.6"/><circle cx="508.9" cy="318.8" r="0.5"/><circle cx="506.2" cy="312.5" r="0.4"/><circle cx="502.3" cy="323.5" r="0.5"/><circle cx="472.5" cy="316.8" r="0.5"/><circle cx="485.8" cy="330.9" r="0.5"/><circle cx="489.3" cy="325.4" r="0.2"/><circle cx="497.6" cy="318.8" r="0.6"/><circle cx="501.0" cy="316.1" r="1.0"/><circle cx="503.9" cy="318.6" r="0.8"/><circle cx="497.8" cy="319.3" r="0.6"/><circle cx="507.5" cy="320.6" r="0.6"/><circle cx="518.5" cy="323.8" r="0.6"/><circle cx="499.8" cy="329.0" r="0.8"/><circle cx="503.0" cy="330.9" r="0.6"/><circle cx="497.2" cy="349.0" r="0.6"/><circle cx="502.3" cy="350.3" r="0.6"/><circle cx="493.9" cy="366.5" r="0.8"/><circle cx="486.8" cy="362.0" r="0.8"/><circle cx="472.6" cy="365.9" r="1.0"/><circle cx="471.9" cy="368.4" r="0.6"/><circle cx="519.2" cy="347.7" r="0.6"/><circle cx="524.3" cy="350.3" r="0.6"/><circle cx="530.8" cy="347.1" r="0.8"/><circle cx="536.0" cy="347.1" r="0.6"/><circle cx="534.7" cy="352.9" r="0.6"/><circle cx="540.5" cy="356.8" r="0.6"/><circle cx="525.6" cy="330.9" r="0.6"/><circle cx="536.0" cy="330.9" r="0.6"/><circle cx="511.7" cy="389.1" r="0.9"/><circle cx="562.8" cy="397.5" r="1.7" fill="url(#sp)"/><circle cx="562.8" cy="397.5" r="0.9"/><circle cx="569.3" cy="402.7" r="1.2"/><circle cx="570.6" cy="398.8" r="0.8"/><circle cx="529.2" cy="414.3" r="0.9"/><circle cx="547.9" cy="414.3" r="0.9"/><circle cx="481.9" cy="376.2" r="0.8"/><circle cx="485.8" cy="385.2" r="0.8"/><circle cx="492.9" cy="365.8" r="0.8"/><circle cx="489.7" cy="406.6" r="0.6"/><circle cx="522.7" cy="416.9" r="0.6"/><circle cx="552.4" cy="398.8" r="0.8"/><circle cx="557.6" cy="398.8" r="0.8"/><circle cx="540.8" cy="375.5" r="0.8"/><circle cx="537.6" cy="372.3" r="0.6"/><circle cx="545.3" cy="369.7" r="0.8"/><circle cx="560.2" cy="394.9" r="1.0"/><circle cx="564.7" cy="392.3" r="0.8"/><circle cx="528.7" cy="414.4" r="1.1"/><circle cx="548.1" cy="414.4" r="0.9"/><circle cx="493.9" cy="455.4" r="0.8"/><circle cx="496.2" cy="460.0" r="0.8"/><circle cx="498.5" cy="465.5" r="0.8"/><circle cx="499.6" cy="467.8" r="0.6"/><circle cx="491.5" cy="470.1" r="0.9"/><circle cx="579.8" cy="476.3" r="0.6"/><circle cx="560.5" cy="490.2" r="0.6"/><circle cx="588.3" cy="490.7" r="0.9"/><circle cx="562.0" cy="397.3" r="1.4" fill="url(#sp)"/><circle cx="562.0" cy="397.3" r="0.8"/><circle cx="570.5" cy="402.7" r="1.2"/><circle cx="554.3" cy="396.5" r="1.1"/><circle cx="558.1" cy="478.6" r="0.8"/><circle cx="516.3" cy="445.3" r="0.9"/><circle cx="525.6" cy="444.2" r="0.8"/><circle cx="565.6" cy="449.2" r="0.9"/><circle cx="556.6" cy="468.1" r="0.9"/><circle cx="530.6" cy="434.5" r="0.8"/><circle cx="573.3" cy="423.6" r="0.8"/><circle cx="588.1" cy="490.8" r="0.9"/><circle cx="582.7" cy="504.8" r="1.1"/><circle cx="561.8" cy="509.4" r="1.4" fill="url(#sp)"/><circle cx="561.8" cy="509.4" r="0.8"/><circle cx="560.6" cy="511.7" r="0.9"/><circle cx="559.5" cy="524.1" r="0.9"/><circle cx="559.0" cy="531.1" r="0.9"/><circle cx="559.0" cy="534.5" r="0.6"/><circle cx="576.1" cy="547.8" r="0.6"/><circle cx="572.3" cy="553.6" r="0.6"/><circle cx="561.0" cy="490.5" r="0.5"/><circle cx="561.5" cy="516.9" r="0.5"/><circle cx="592.8" cy="557.4" r="1.1"/><circle cx="593.6" cy="563.6" r="0.9"/><circle cx="600.5" cy="533.4" r="0.9"/><circle cx="605.9" cy="531.1" r="0.8"/><circle cx="550.2" cy="541.9" r="1.1"/><circle cx="554.8" cy="541.2" r="0.9"/><circle cx="605.2" cy="550.5" r="0.8"/><polygon fill="url(#sp)" points="437.2,485.9 443.4,485.0 445.2,487.7 444.1,490.8 445.7,494.7 441.8,495.2 438.7,492.4 436.9,489.3"/><polygon fill="url(#sp)" points="423.2,498.3 427.9,495.5 432.5,496.7 433.3,503.2 431.0,507.6 432.2,511.7 428.6,513.8 427.1,517.9 423.2,517.2 424.8,511.7 418.6,509.7 417.8,508.2 425.5,507.1 427.1,503.2"/><polygon fill="url(#sp)" points="430.2,533.4 434.4,533.0 435.3,536.1 431.0,537.0"/><circle cx="444.1" cy="533.4" r="1.2"/><circle cx="449.6" cy="544.3" r="0.6"/><circle cx="458.8" cy="489.3" r="1.2"/><circle cx="465.0" cy="487.7" r="0.6"/><circle cx="469.7" cy="481.2" r="1.4" fill="url(#sp)"/><circle cx="469.7" cy="481.2" r="0.8"/><circle cx="477.4" cy="482.3" r="0.6"/><circle cx="479.7" cy="482.8" r="0.6"/><circle cx="432.8" cy="552.0" r="0.9"/><polygon fill="url(#sp)" points="321.4,523.4 324.4,523.0 324.1,530.1 321.7,529.6"/><circle cx="387.6" cy="480.8" r="0.9"/><circle cx="320.2" cy="535.0" r="0.6"/><polygon fill="url(#sp)" points="416.4,432.9 420.0,429.8 423.0,429.4 421.8,432.9 418.7,435.6 417.5,438.0 416.1,436.5"/><polygon fill="url(#sp)" points="486.1,467.0 491.5,466.5 492.7,470.1 488.4,472.1 485.6,470.6"/><polygon fill="url(#sp)" points="493.8,454.6 497.7,455.7 500.8,458.5 500.0,460.8 495.4,459.3"/><circle cx="387.7" cy="428.3" r="0.6"/><circle cx="441.9" cy="452.0" r="0.9"/><circle cx="406.3" cy="456.2" r="0.8"/><circle cx="393.9" cy="465.5" r="0.6"/><circle cx="387.0" cy="480.2" r="1.4" fill="url(#sp)"/><circle cx="387.0" cy="480.2" r="0.8"/><circle cx="424.9" cy="457.7" r="1.2"/><circle cx="433.4" cy="470.9" r="1.2"/><circle cx="469.0" cy="470.9" r="0.9"/><circle cx="463.6" cy="471.6" r="0.8"/><circle cx="489.2" cy="406.6" r="0.6"/><circle cx="479.1" cy="463.1" r="1.4" fill="url(#sp)"/><circle cx="479.1" cy="463.1" r="0.8"/><circle cx="476.8" cy="465.5" r="0.9"/><circle cx="482.2" cy="475.5" r="1.4" fill="url(#sp)"/><circle cx="482.2" cy="475.5" r="0.8"/><circle cx="483.7" cy="467.8" r="0.9"/><circle cx="472.9" cy="480.2" r="1.4" fill="url(#sp)"/><circle cx="472.9" cy="480.2" r="0.8"/><circle cx="468.3" cy="483.3" r="0.9"/><circle cx="459.0" cy="488.7" r="1.2"/><circle cx="417.2" cy="447.6" r="0.9"/><circle cx="489.2" cy="461.6" r="0.8"/><circle cx="440.4" cy="489.5" r="1.2"/><polygon fill="url(#sp)" points="455.7,379.7 459.6,375.8 463.5,375.0 464.7,379.7 462.7,385.9 458.8,387.4 456.1,385.1"/><polygon fill="url(#sp)" points="466.6,361.9 472.0,361.1 474.3,364.2 472.8,369.6 468.1,370.7 466.9,366.5"/><circle cx="465.8" cy="390.5" r="0.8"/><circle cx="480.5" cy="377.4" r="0.8"/><circle cx="484.9" cy="380.5" r="0.6"/><circle cx="489.0" cy="384.3" r="0.6"/><circle cx="472.8" cy="389.0" r="0.6"/><circle cx="464.3" cy="372.7" r="0.8"/><polygon fill="url(#sp)" points="259.6,286.3 268.1,291.7 272.8,297.1 271.5,298.6 265.8,294.0 260.4,289.4"/><polygon fill="url(#sp)" points="284.4,353.6 289.0,351.3 289.8,356.7 287.5,362.9 286.7,369.1 284.9,369.1 285.9,361.4"/><circle cx="230.2" cy="316.5" r="0.6"/><circle cx="251.1" cy="280.5" r="0.6"/><circle cx="284.4" cy="307.2" r="0.8"/><circle cx="231.7" cy="358.3" r="0.5"/><polygon fill="url(#sp)" points="239.5,421.9 243.4,421.2 244.9,422.7 242.6,424.3 240.0,423.8"/><polygon fill="url(#sp)" points="241.8,396.4 246.5,394.8 248.0,396.4 244.1,400.6 242.1,403.4 240.6,402.6"/><circle cx="282.1" cy="391.7" r="0.8"/><circle cx="209.3" cy="404.1" r="0.8"/><circle cx="207.4" cy="397.2" r="0.8"/><circle cx="246.5" cy="384.8" r="0.6"/><circle cx="255.0" cy="360.3" r="1.2"/><circle cx="213.2" cy="426.9" r="0.5"/><polygon fill="url(#sp)" points="170.7,363.3 174.3,364.8 176.3,370.3 175.0,375.2 172.7,371.8 171.2,367.9"/><polygon fill="url(#sp)" points="128.3,404.3 130.9,404.0 131.4,409.3 128.9,409.7"/><polygon fill="url(#sp)" points="182.8,381.1 185.9,385.0 189.0,388.8 194.4,390.7 198.3,391.6 197.5,393.5 192.1,392.7 186.6,389.6 183.6,385.7"/><circle cx="143.3" cy="350.1" r="1.1"/><circle cx="209.1" cy="404.0" r="0.6"/><circle cx="179.7" cy="402.0" r="0.5"/><circle cx="189.0" cy="412.1" r="0.6"/><circle cx="202.9" cy="395.8" r="0.9"/><circle cx="124.7" cy="409.7" r="0.8"/><circle cx="167.3" cy="358.6" r="0.8"/><circle cx="127.0" cy="461.0" r="1.4" fill="url(#sp)"/><circle cx="127.0" cy="461.0" r="0.8"/><circle cx="124.7" cy="457.9" r="0.9"/><circle cx="117.7" cy="458.7" r="0.9"/><circle cx="138.6" cy="447.9" r="0.9"/><circle cx="116.2" cy="435.5" r="1.1"/><circle cx="151.8" cy="453.0" r="0.8"/><circle cx="176.6" cy="469.9" r="0.6"/><circle cx="181.2" cy="472.6" r="0.6"/><circle cx="143.3" cy="503.6" r="0.6"/><polygon fill="url(#sp)" points="190.5,549.7 194.4,550.5 199.0,549.7 202.9,552.8 203.7,557.4 206.8,558.2 209.1,562.1 207.6,566.7 202.9,569.0 199.8,566.7 196.7,560.5 192.8,557.4 189.7,554.3"/><polygon fill="url(#sp)" points="199.0,521.0 201.4,521.8 202.1,524.9 199.8,524.6"/><polygon fill="url(#sp)" points="223.8,517.2 227.7,516.4 230.0,519.5 229.2,522.6 225.8,521.0"/><circle cx="206.8" cy="528.0" r="0.8"/><circle cx="197.5" cy="528.0" r="0.6"/><circle cx="199.8" cy="531.9" r="0.6"/><circle cx="187.4" cy="552.8" r="1.2"/><circle cx="184.3" cy="550.5" r="0.9"/><circle cx="134.0" cy="481.5" r="0.8"/><circle cx="129.4" cy="524.9" r="0.6"/><polygon fill="url(#sp)" points="224.8,518.8 228.6,517.2 233.3,513.4 237.9,511.8 240.6,514.1 239.5,518.0 236.4,521.1 233.3,520.3 229.4,521.9 226.3,521.1"/><circle cx="265.8" cy="490.1" r="0.9"/><circle cx="261.2" cy="493.2" r="0.6"/><circle cx="263.5" cy="500.2" r="0.6"/><circle cx="261.9" cy="519.6" r="0.6"/><circle cx="279.7" cy="520.3" r="1.1"/><circle cx="275.9" cy="525.0" r="0.6"/><circle cx="283.6" cy="528.1" r="0.9"/><circle cx="235.6" cy="523.4" r="0.8"/><circle cx="256.5" cy="553.6" r="1.2"/><circle cx="249.2" cy="559.5" r="0.6"/><circle cx="200.8" cy="523.4" r="0.9"/><circle cx="267.4" cy="507.9" r="0.9"/></g>
<g stroke="#000078" stroke-width="1" fill="none" shape-rendering="crispEdges">
<path d="M214.5 570.5L201.1 562.8M203.5 566.9L201.1 562.8L205.9 562.8"/>
<path d="M231.4 570.5L217.4 563.9M220.1 567.9L217.4 563.9L222.2 563.5"/>
<path d="M248.3 570.5L235.2 562.3M237.4 566.5L235.2 562.3L240.0 562.5"/>
<path d="M265.3 570.5L254.3 559.5M255.5 564.2L254.3 559.5L258.9 560.8"/>
<path d="M282.2 570.5L274.4 557.1M274.4 561.9L274.4 557.1L278.6 559.5"/>
<path d="M434.5 570.5L419.1 572.8M423.6 574.5L419.1 572.8L422.9 569.8"/>
<path d="M451.4 570.5L436.1 573.0M440.6 574.7L436.1 573.0L439.8 570.0"/>
<path d="M485.2 570.5L469.7 570.4M473.9 572.8L469.7 570.4L473.9 568.0"/>
<path d="M502.1 570.5L488.1 564.0M490.8 567.9L488.1 564.0L492.9 563.5"/>
<path d="M519.1 570.5L511.1 557.2M511.2 562.0L511.1 557.2L515.3 559.5"/>
<path d="M552.9 570.5L552.0 555.0M549.9 559.3L552.0 555.0L554.7 559.0"/>
<path d="M569.8 570.5L575.3 556.0M571.6 559.0L575.3 556.0L576.1 560.8"/>
<path d="M586.7 570.5L594.3 556.9M590.1 559.4L594.3 556.9L594.3 561.7"/>
<path d="M620.6 570.5L619.7 555.0M617.5 559.3L619.7 555.0L622.3 559.0"/>
<path d="M637.5 570.5L637.2 555.0M634.9 559.2L637.2 555.0L639.7 559.1"/>
<path d="M214.5 553.6L202.6 543.6M204.3 548.1L202.6 543.6L207.4 544.5"/>
<path d="M231.4 553.6L219.4 543.8M221.1 548.3L219.4 543.8L224.1 544.6"/>
<path d="M248.3 553.6L241.5 539.7M241.2 544.5L241.5 539.7L245.5 542.3"/>
<path d="M265.3 553.6L255.7 541.4M256.4 546.1L255.7 541.4L260.2 543.2"/>
<path d="M451.4 553.6L436.1 556.3M440.6 557.9L436.1 556.3L439.8 553.2"/>
<path d="M468.3 553.6L453.0 556.3M457.5 557.9L453.0 556.3L456.7 553.2"/>
<path d="M519.1 553.6L510.1 541.0M510.5 545.7L510.1 541.0L514.5 543.0"/>
<path d="M536.0 553.6L529.6 539.5M529.1 544.2L529.6 539.5L533.5 542.3"/>
<path d="M552.9 553.6L550.2 538.3M548.6 542.8L550.2 538.3L553.3 542.0"/>
<path d="M569.8 553.6L577.6 540.2M573.4 542.6L577.6 540.2L577.6 545.0"/>
<path d="M586.7 553.6L594.5 540.2M590.3 542.6L594.5 540.2L594.5 545.0"/>
<path d="M620.6 553.6L619.2 538.2M617.2 542.5L619.2 538.2L622.0 542.1"/>
<path d="M637.5 553.6L637.5 538.1M635.1 542.3L637.5 538.1L639.9 542.3"/>
<path d="M214.5 536.7L205.0 524.5M205.6 529.2L205.0 524.5L209.4 526.3"/>
<path d="M231.4 536.7L221.9 524.5M222.5 529.2L221.9 524.5L226.3 526.3"/>
<path d="M248.3 536.7L240.6 523.3M240.6 528.1L240.6 523.3L244.7 525.7"/>
<path d="M265.3 536.7L258.0 523.0M257.8 527.8L258.0 523.0L262.1 525.5"/>
<path d="M282.2 536.7L289.5 523.0M285.4 525.5L289.5 523.0L289.6 527.8"/>
<path d="M316.0 536.7L300.6 535.3M304.5 538.1L300.6 535.3L304.9 533.3"/>
<path d="M451.4 536.7L435.9 538.0M440.3 540.1L435.9 538.0L439.9 535.3"/>
<path d="M468.3 536.7L452.9 538.0M457.2 540.1L452.9 538.0L456.8 535.3"/>
<path d="M485.2 536.7L470.0 534.0M473.6 537.1L470.0 534.0L474.5 532.4"/>
<path d="M502.1 536.7L489.6 527.6M491.6 532.0L489.6 527.6L494.4 528.1"/>
<path d="M519.1 536.7L511.1 523.4M511.2 528.2L511.1 523.4L515.3 525.7"/>
<path d="M536.0 536.7L528.7 523.0M528.5 527.8L528.7 523.0L532.8 525.5"/>
<path d="M552.9 536.7L541.4 526.3M542.9 530.9L541.4 526.3L546.1 527.3"/>
<path d="M569.8 536.7L571.2 521.2M568.4 525.2L571.2 521.2L573.2 525.6"/>
<path d="M586.7 536.7L595.6 524.0M591.3 526.0L595.6 524.0L595.2 528.8"/>
<path d="M620.6 536.7L620.0 521.2M617.8 525.4L620.0 521.2L622.6 525.3"/>
<path d="M637.5 536.7L637.5 521.2M635.1 525.3L637.5 521.2L639.9 525.3"/>
<path d="M197.6 519.8L185.4 510.2M187.2 514.7L185.4 510.2L190.1 510.9"/>
<path d="M214.5 519.8L208.2 505.6M207.7 510.4L208.2 505.6L212.1 508.4"/>
<path d="M231.4 519.8L229.8 504.4M227.8 508.7L229.8 504.4L232.6 508.2"/>
<path d="M248.3 519.8L244.6 504.7M243.3 509.3L244.6 504.7L247.9 508.2"/>
<path d="M265.3 519.8L265.3 504.3M262.9 508.4L265.3 504.3L267.7 508.4"/>
<path d="M282.2 519.8L278.2 504.8M276.9 509.4L278.2 504.8L281.6 508.2"/>
<path d="M299.1 519.8L287.4 509.6M289.0 514.1L287.4 509.6L292.1 510.5"/>
<path d="M316.0 519.8L301.6 525.6M306.4 526.2L301.6 525.6L304.6 521.8"/>
<path d="M332.9 519.8L318.9 526.3M323.7 526.7L318.9 526.3L321.6 522.4"/>
<path d="M451.4 519.8L436.1 517.1M439.8 520.2L436.1 517.1L440.6 515.4"/>
<path d="M468.3 519.8L453.5 515.2M456.8 518.7L453.5 515.2L458.2 514.2"/>
<path d="M485.2 519.8L473.7 509.4M475.2 514.0L473.7 509.4L478.4 510.4"/>
<path d="M502.1 519.8L488.6 512.3M491.1 516.4L488.6 512.3L493.4 512.2"/>
<path d="M519.1 519.8L509.3 507.7M510.1 512.5L509.3 507.7L513.8 509.4"/>
<path d="M536.0 519.8L528.0 506.5M528.1 511.3L528.0 506.5L532.2 508.8"/>
<path d="M552.9 519.8L552.9 504.3M550.5 508.4L552.9 504.3L555.3 508.4"/>
<path d="M569.8 519.8L569.8 504.3M567.4 508.4L569.8 504.3L572.2 508.4"/>
<path d="M586.7 519.8L593.5 505.8M589.6 508.5L593.5 505.8L593.9 510.6"/>
<path d="M603.7 519.8L602.3 504.3M600.3 508.7L602.3 504.3L605.1 508.3"/>
<path d="M620.6 519.8L620.6 504.3M618.2 508.4L620.6 504.3L623.0 508.4"/>
<path d="M637.5 519.8L637.5 504.3M635.1 508.4L637.5 504.3L639.9 508.4"/>
<path d="M197.6 502.8L190.5 489.0M190.3 493.8L190.5 489.0L194.6 491.6"/>
<path d="M214.5 502.8L209.2 488.3M208.4 493.0L209.2 488.3L212.9 491.4"/>
<path d="M231.4 502.8L233.0 487.4M230.2 491.3L233.0 487.4L235.0 491.8"/>
<path d="M248.3 502.8L250.8 487.5M247.7 491.3L250.8 487.5L252.5 492.0"/>
<path d="M265.3 502.8L265.8 487.3M263.3 491.4L265.8 487.3L268.1 491.6"/>
<path d="M282.2 502.8L275.1 489.0M274.9 493.8L275.1 489.0L279.2 491.6"/>
<path d="M299.1 502.8L283.8 500.4M287.5 503.4L283.8 500.4L288.3 498.7"/>
<path d="M316.0 502.8L301.0 506.6M305.6 507.9L301.0 506.6L304.4 503.2"/>
<path d="M332.9 502.8L342.9 514.7M342.1 510.0L342.9 514.7L338.4 513.1"/>
<path d="M451.4 502.8L435.9 501.5M439.9 504.2L435.9 501.5L440.3 499.5"/>
<path d="M468.3 502.8L453.0 500.1M456.7 503.2L453.0 500.1L457.5 498.5"/>
<path d="M485.2 502.8L470.2 498.8M473.6 502.2L470.2 498.8L474.9 497.6"/>
<path d="M502.1 502.8L487.6 497.5M490.7 501.2L487.6 497.5L492.3 496.7"/>
<path d="M519.1 502.8L508.1 491.9M509.3 496.5L508.1 491.9L512.7 493.1"/>
<path d="M536.0 502.8L527.8 489.7M527.9 494.5L527.8 489.7L532.0 491.9"/>
<path d="M552.9 502.8L552.9 487.3M550.5 491.5L552.9 487.3L555.3 491.5"/>
<path d="M569.8 502.8L571.2 487.4M568.4 491.3L571.2 487.4L573.2 491.7"/>
<path d="M586.7 502.8L588.1 487.4M585.3 491.3L588.1 487.4L590.1 491.7"/>
<path d="M603.7 502.8L602.3 487.4M600.3 491.7L602.3 487.4L605.1 491.3"/>
<path d="M620.6 502.8L620.6 487.3M618.2 491.5L620.6 487.3L623.0 491.5"/>
<path d="M637.5 502.8L637.5 487.3M635.1 491.5L637.5 487.3L639.9 491.5"/>
<path d="M197.6 485.9L196.0 470.5M194.0 474.8L196.0 470.5L198.8 474.3"/>
<path d="M214.5 485.9L215.0 470.4M212.5 474.5L215.0 470.4L217.3 474.6"/>
<path d="M231.4 485.9L234.6 470.7M231.4 474.3L234.6 470.7L236.1 475.3"/>
<path d="M248.3 485.9L253.1 471.1M249.6 474.3L253.1 471.1L254.1 475.8"/>
<path d="M265.3 485.9L268.5 470.7M265.3 474.3L268.5 470.7L270.0 475.3"/>
<path d="M282.2 485.9L279.5 470.6M277.8 475.1L279.5 470.6L282.6 474.3"/>
<path d="M299.1 485.9L284.5 480.6M287.6 484.3L284.5 480.6L289.3 479.7"/>
<path d="M316.0 485.9L329.4 493.6M327.0 489.5L329.4 493.6L324.6 493.6"/>
<path d="M332.9 485.9L345.2 495.4M343.4 491.0L345.2 495.4L340.4 494.7"/>
<path d="M349.9 485.9L362.7 494.5M360.6 490.2L362.7 494.5L357.9 494.2"/>
<path d="M366.8 485.9L380.2 493.6M377.8 489.5L380.2 493.6L375.4 493.6"/>
<path d="M468.3 485.9L453.3 481.9M456.7 485.3L453.3 481.9L458.0 480.6"/>
<path d="M485.2 485.9L470.7 480.6M473.7 484.3L470.7 480.6L475.4 479.7"/>
<path d="M502.1 485.9L488.0 479.6M490.8 483.5L488.0 479.6L492.8 479.1"/>
<path d="M519.1 485.9L505.2 478.8M507.9 482.9L505.2 478.8L510.0 478.6"/>
<path d="M536.0 485.9L529.7 471.7M529.2 476.5L529.7 471.7L533.6 474.5"/>
<path d="M552.9 485.9L548.9 470.9M547.6 475.5L548.9 470.9L552.3 474.3"/>
<path d="M569.8 485.9L568.5 470.4M566.4 474.8L568.5 470.4L571.2 474.4"/>
<path d="M586.7 485.9L586.7 470.4M584.3 474.5L586.7 470.4L589.1 474.5"/>
<path d="M603.7 485.9L603.7 470.4M601.3 474.5L603.7 470.4L606.1 474.5"/>
<path d="M620.6 485.9L620.6 470.4M618.2 474.5L620.6 470.4L623.0 474.5"/>
<path d="M637.5 485.9L637.5 470.4M635.1 474.5L637.5 470.4L639.9 474.5"/>
<path d="M180.7 468.9L171.1 456.7M171.8 461.4L171.1 456.7L175.6 458.5"/>
<path d="M197.6 468.9L195.2 453.6M193.4 458.1L195.2 453.6L198.2 457.3"/>
<path d="M214.5 468.9L215.3 453.4M212.7 457.4L215.3 453.4L217.5 457.7"/>
<path d="M231.4 468.9L235.4 453.9M232.0 457.3L235.4 453.9L236.7 458.6"/>
<path d="M248.3 468.9L254.9 454.8M251.0 457.6L254.9 454.8L255.3 459.6"/>
<path d="M265.3 468.9L275.8 457.6M271.2 459.0L275.8 457.6L274.8 462.2"/>
<path d="M282.2 468.9L295.3 460.7M290.5 460.8L295.3 460.7L293.1 464.9"/>
<path d="M299.1 468.9L313.7 463.6M308.9 462.8L313.7 463.6L310.6 467.3"/>
<path d="M316.0 468.9L331.0 464.9M326.4 463.6L331.0 464.9L327.6 468.3"/>
<path d="M332.9 468.9L348.4 467.5M344.0 465.5L348.4 467.5L344.4 470.3"/>
<path d="M349.9 468.9L365.3 470.2M361.4 467.5L365.3 470.2L361.0 472.3"/>
<path d="M366.8 468.9L381.8 472.9M378.4 469.5L381.8 472.9L377.1 474.1"/>
<path d="M383.7 468.9L397.1 476.6M394.7 472.5L397.1 476.6L392.3 476.6"/>
<path d="M434.5 468.9L426.7 455.5M426.7 460.3L426.7 455.5L430.9 457.9"/>
<path d="M451.4 468.9L443.6 455.5M443.6 460.3L443.6 455.5L447.8 457.9"/>
<path d="M468.3 468.9L459.4 456.2M459.8 461.0L459.4 456.2L463.8 458.2"/>
<path d="M485.2 468.9L475.3 457.0M476.1 461.7L475.3 457.0L479.8 458.7"/>
<path d="M502.1 468.9L490.3 458.9M491.9 463.4L490.3 458.9L495.0 459.8"/>
<path d="M519.1 468.9L508.9 457.2M509.8 461.9L508.9 457.2L513.4 458.8"/>
<path d="M536.0 468.9L528.2 455.5M528.2 460.3L528.2 455.5L532.4 457.9"/>
<path d="M569.8 468.9L568.5 453.5M566.4 457.8L568.5 453.5L571.2 457.4"/>
<path d="M586.7 468.9L586.7 453.4M584.3 457.5L586.7 453.4L589.1 457.5"/>
<path d="M603.7 468.9L604.7 453.4M602.1 457.4L604.7 453.4L606.8 457.7"/>
<path d="M620.6 468.9L621.1 453.4M618.6 457.5L621.1 453.4L623.4 457.6"/>
<path d="M637.5 468.9L638.0 453.4M635.5 457.5L638.0 453.4L640.3 457.6"/>
<path d="M163.7 451.9L159.0 437.1M158.0 441.8L159.0 437.1L162.5 440.4"/>
<path d="M180.7 451.9L176.6 436.9M175.4 441.5L176.6 436.9L180.0 440.3"/>
<path d="M197.6 451.9L198.4 436.4M195.8 440.4L198.4 436.4L200.6 440.7"/>
<path d="M214.5 451.9L216.1 436.5M213.3 440.3L216.1 436.5L218.1 440.8"/>
<path d="M231.4 451.9L234.6 436.7M231.4 440.3L234.6 436.7L236.1 441.3"/>
<path d="M248.3 451.9L256.8 438.9M252.5 441.1L256.8 438.9L256.5 443.7"/>
<path d="M265.3 451.9L275.2 440.0M270.7 441.6L275.2 440.0L274.4 444.7"/>
<path d="M282.2 451.9L294.9 443.0M290.1 443.4L294.9 443.0L292.8 447.3"/>
<path d="M299.1 451.9L312.4 443.9M307.6 444.0L312.4 443.9L310.1 448.1"/>
<path d="M316.0 451.9L330.7 446.8M326.0 445.9L330.7 446.8L327.5 450.5"/>
<path d="M332.9 451.9L348.2 449.5M343.8 447.7L348.2 449.5L344.5 452.5"/>
<path d="M349.9 451.9L365.4 451.3M361.1 449.1L365.4 451.3L361.3 453.9"/>
<path d="M366.8 451.9L382.3 452.7M378.2 450.1L382.3 452.7L378.0 454.9"/>
<path d="M383.7 451.9L397.6 458.7M394.9 454.7L397.6 458.7L392.8 459.0"/>
<path d="M400.6 451.9L406.4 437.5M402.6 440.5L406.4 437.5L407.1 442.3"/>
<path d="M417.5 451.9L411.0 437.8M410.6 442.6L411.0 437.8L414.9 440.6"/>
<path d="M434.5 451.9L426.7 438.5M426.7 443.3L426.7 438.5L430.9 440.9"/>
<path d="M451.4 451.9L442.7 439.0M443.0 443.8L442.7 439.0L447.0 441.1"/>
<path d="M468.3 451.9L459.4 439.2M459.8 444.0L459.4 439.2L463.8 441.2"/>
<path d="M485.2 451.9L477.5 438.5M477.5 443.3L477.5 438.5L481.6 440.9"/>
<path d="M519.1 451.9L508.1 440.9M509.3 445.6L508.1 440.9L512.7 442.2"/>
<path d="M536.0 451.9L526.9 439.3M527.4 444.1L526.9 439.3L531.3 441.3"/>
<path d="M586.7 451.9L583.0 436.8M581.7 441.5L583.0 436.8L586.3 440.3"/>
<path d="M603.7 451.9L602.3 436.4M600.3 440.8L602.3 436.4L605.1 440.4"/>
<path d="M620.6 451.9L620.6 436.4M618.2 440.5L620.6 436.4L623.0 440.5"/>
<path d="M637.5 451.9L637.5 436.4M635.1 440.5L637.5 436.4L639.9 440.5"/>
<path d="M146.8 434.8L137.9 422.1M138.3 426.9L137.9 422.1L142.3 424.2"/>
<path d="M163.7 434.8L159.0 420.1M158.0 424.8L159.0 420.1L162.5 423.3"/>
<path d="M180.7 434.8L179.8 419.4M177.7 423.6L179.8 419.4L182.5 423.4"/>
<path d="M197.6 434.8L201.1 419.7M197.8 423.2L201.1 419.7L202.5 424.3"/>
<path d="M214.5 434.8L218.5 419.9M215.1 423.3L218.5 419.9L219.8 424.5"/>
<path d="M231.4 434.8L236.7 420.3M233.0 423.4L236.7 420.3L237.6 425.0"/>
<path d="M248.3 434.8L256.1 421.4M251.9 423.8L256.1 421.4L256.1 426.2"/>
<path d="M265.3 434.8L274.6 422.5M270.2 424.3L274.6 422.5L274.0 427.2"/>
<path d="M282.2 434.8L292.9 423.7M288.3 425.0L292.9 423.7L291.8 428.3"/>
<path d="M299.1 434.8L311.3 425.3M306.6 426.0L311.3 425.3L309.5 429.7"/>
<path d="M316.0 434.8L329.4 427.1M324.6 427.1L329.4 427.1L327.0 431.2"/>
<path d="M332.9 434.8L347.2 428.8M342.4 428.2L347.2 428.8L344.3 432.6"/>
<path d="M349.9 434.8L364.6 430.0M359.9 429.0L364.6 430.0L361.4 433.6"/>
<path d="M366.8 434.8L381.2 429.0M376.4 428.4L381.2 429.0L378.2 432.8"/>
<path d="M383.7 434.8L381.0 419.6M379.4 424.1L381.0 419.6L384.1 423.2"/>
<path d="M400.6 434.8L396.1 420.0M395.0 424.7L396.1 420.0L399.6 423.3"/>
<path d="M434.5 434.8L427.9 420.8M427.5 425.6L427.9 420.8L431.8 423.5"/>
<path d="M451.4 434.8L444.3 421.0M444.1 425.8L444.3 421.0L448.4 423.6"/>
<path d="M468.3 434.8L460.6 421.4M460.6 426.2L460.6 421.4L464.7 423.8"/>
<path d="M485.2 434.8L478.2 421.0M477.9 425.8L478.2 421.0L482.2 423.6"/>
<path d="M502.1 434.8L496.8 420.3M496.0 425.0L496.8 420.3L500.5 423.4"/>
<path d="M586.7 434.8L577.6 422.3M578.1 427.1L577.6 422.3L582.0 424.2"/>
<path d="M603.7 434.8L599.9 419.8M598.6 424.4L599.9 419.8L603.2 423.2"/>
<path d="M620.6 434.8L619.2 419.4M617.2 423.7L619.2 419.4L622.0 423.3"/>
<path d="M637.5 434.8L637.0 419.3M634.7 423.6L637.0 419.3L639.5 423.4"/>
<path d="M129.9 417.7L123.3 403.7M122.9 408.5L123.3 403.7L127.3 406.4"/>
<path d="M146.8 417.7L140.3 403.7M139.9 408.5L140.3 403.7L144.2 406.4"/>
<path d="M163.7 417.7L162.1 402.3M160.2 406.7L162.1 402.3L164.9 406.2"/>
<path d="M180.7 417.7L190.2 405.5M185.8 407.3L190.2 405.5L189.5 410.3"/>
<path d="M197.6 417.7L203.4 403.4M199.6 406.3L203.4 403.4L204.1 408.1"/>
<path d="M231.4 417.7L237.7 403.6M233.8 406.4L237.7 403.6L238.2 408.3"/>
<path d="M248.3 417.7L255.9 404.2M251.7 406.7L255.9 404.2L255.9 409.0"/>
<path d="M265.3 417.7L274.2 405.0M269.8 407.1L274.2 405.0L273.7 409.8"/>
<path d="M282.2 417.7L292.6 406.2M288.0 407.7L292.6 406.2L291.6 410.9"/>
<path d="M299.1 417.7L309.3 406.0M304.7 407.6L309.3 406.0L308.4 410.8"/>
<path d="M316.0 417.7L328.2 408.2M323.5 408.9L328.2 408.2L326.4 412.6"/>
<path d="M332.9 417.7L346.5 410.2M341.7 410.1L346.5 410.2L344.0 414.3"/>
<path d="M349.9 417.7L364.2 411.9M359.5 411.3L364.2 411.9L361.3 415.7"/>
<path d="M366.8 417.7L381.2 411.9M376.4 411.3L381.2 411.9L378.2 415.7"/>
<path d="M383.7 417.7L387.7 402.8M384.3 406.2L387.7 402.8L389.0 407.4"/>
<path d="M400.6 417.7L407.7 403.9M403.6 406.5L407.7 403.9L407.9 408.7"/>
<path d="M417.5 417.7L420.2 402.5M417.1 406.2L420.2 402.5L421.9 407.0"/>
<path d="M451.4 417.7L444.3 403.9M444.1 408.7L444.3 403.9L448.4 406.5"/>
<path d="M468.3 417.7L460.6 404.3M460.6 409.1L460.6 404.3L464.7 406.7"/>
<path d="M485.2 417.7L486.6 402.3M483.8 406.2L486.6 402.3L488.6 406.6"/>
<path d="M502.1 417.7L502.1 402.2M499.7 406.4L502.1 402.2L504.5 406.4"/>
<path d="M536.0 417.7L531.7 402.8M530.5 407.5L531.7 402.8L535.1 406.2"/>
<path d="M552.9 417.7L540.9 407.9M542.6 412.4L540.9 407.9L545.7 408.7"/>
<path d="M586.7 417.7L574.7 408.0M576.4 412.5L574.7 408.0L579.4 408.7"/>
<path d="M603.7 417.7L593.3 406.2M594.3 410.9L593.3 406.2L597.9 407.7"/>
<path d="M620.6 417.7L612.6 404.5M612.7 409.3L612.6 404.5L616.8 406.8"/>
<path d="M637.5 417.7L630.9 403.7M630.5 408.5L630.9 403.7L634.9 406.4"/>
<path d="M129.9 400.6L124.6 386.0M123.8 390.8L124.6 386.0L128.3 389.1"/>
<path d="M146.8 400.6L146.0 385.1M143.8 389.4L146.0 385.1L148.6 389.1"/>
<path d="M163.7 400.6L168.0 385.7M164.6 389.0L168.0 385.7L169.2 390.4"/>
<path d="M180.7 400.6L190.2 388.4M185.8 390.2L190.2 388.4L189.5 393.1"/>
<path d="M197.6 400.6L205.3 387.2M201.2 389.6L205.3 387.2L205.3 392.0"/>
<path d="M248.3 400.6L257.1 387.8M252.7 389.9L257.1 387.8L256.7 392.6"/>
<path d="M265.3 400.6L274.8 388.4M270.4 390.2L274.8 388.4L274.1 393.1"/>
<path d="M282.2 400.6L292.6 389.1M288.0 390.6L292.6 389.1L291.6 393.8"/>
<path d="M299.1 400.6L308.9 388.6M304.4 390.3L308.9 388.6L308.1 393.3"/>
<path d="M316.0 400.6L326.4 389.1M321.8 390.6L326.4 389.1L325.4 393.8"/>
<path d="M332.9 400.6L344.6 390.4M339.9 391.3L344.6 390.4L343.1 395.0"/>
<path d="M349.9 400.6L362.7 391.9M357.9 392.3L362.7 391.9L360.6 396.2"/>
<path d="M366.8 400.6L379.6 391.9M374.8 392.3L379.6 391.9L377.5 396.2"/>
<path d="M383.7 400.6L397.3 393.1M392.5 393.0L397.3 393.1L394.8 397.2"/>
<path d="M400.6 400.6L414.8 394.3M410.0 393.8L414.8 394.3L412.0 398.2"/>
<path d="M417.5 400.6L432.6 397.1M428.1 395.7L432.6 397.1L429.1 400.4"/>
<path d="M434.5 400.6L442.2 387.2M438.1 389.6L442.2 387.2L442.2 392.0"/>
<path d="M468.3 400.6L464.3 385.6M463.0 390.3L464.3 385.6L467.7 389.0"/>
<path d="M485.2 400.6L486.6 385.2M483.8 389.1L486.6 385.2L488.6 389.5"/>
<path d="M502.1 400.6L513.1 389.6M508.5 390.9L513.1 389.6L511.9 394.3"/>
<path d="M552.9 400.6L541.0 390.6M542.7 395.1L541.0 390.6L545.8 391.5"/>
<path d="M569.8 400.6L555.8 394.0M558.5 398.0L555.8 394.0L560.6 393.6"/>
<path d="M586.7 400.6L572.5 394.5M575.4 398.4L572.5 394.5L577.2 394.0"/>
<path d="M603.7 400.6L589.6 394.0M592.4 398.0L589.6 394.0L594.4 393.6"/>
<path d="M620.6 400.6L606.8 393.6M609.4 397.6L606.8 393.6L611.6 393.3"/>
<path d="M637.5 400.6L624.1 392.9M626.5 397.0L624.1 392.9L628.9 392.9"/>
<path d="M129.9 383.4L144.5 378.1M139.7 377.3L144.5 378.1L141.4 381.8"/>
<path d="M146.8 383.4L158.9 373.7M154.1 374.4L158.9 373.7L157.1 378.1"/>
<path d="M163.7 383.4L175.8 373.7M171.0 374.4L175.8 373.7L174.1 378.1"/>
<path d="M282.2 383.4L292.9 372.3M288.3 373.6L292.9 372.3L291.8 376.9"/>
<path d="M299.1 383.4L309.1 371.5M304.6 373.2L309.1 371.5L308.2 376.3"/>
<path d="M316.0 383.4L326.0 371.5M321.5 373.2L326.0 371.5L325.1 376.3"/>
<path d="M332.9 383.4L343.5 372.1M338.9 373.5L343.5 372.1L342.4 376.7"/>
<path d="M349.9 383.4L359.8 371.5M355.3 373.2L359.8 371.5L359.0 376.3"/>
<path d="M366.8 383.4L378.1 372.8M373.4 373.9L378.1 372.8L376.7 377.4"/>
<path d="M383.7 383.4L395.7 373.7M391.0 374.4L395.7 373.7L394.0 378.1"/>
<path d="M400.6 383.4L413.9 375.4M409.1 375.5L413.9 375.4L411.6 379.6"/>
<path d="M417.5 383.4L431.7 377.1M426.9 376.6L431.7 377.1L428.9 381.0"/>
<path d="M434.5 383.4L449.0 378.1M444.3 377.3L449.0 378.1L445.9 381.8"/>
<path d="M451.4 383.4L459.1 370.0M455.0 372.4L459.1 370.0L459.1 374.8"/>
<path d="M468.3 383.4L471.0 368.1M467.9 371.8L471.0 368.1L472.6 372.7"/>
<path d="M485.2 383.4L484.7 367.9M482.4 372.2L484.7 367.9L487.2 372.0"/>
<path d="M519.1 383.4L527.5 370.4M523.2 372.6L527.5 370.4L527.3 375.2"/>
<path d="M569.8 383.4L554.8 379.7M558.2 383.0L554.8 379.7L559.4 378.3"/>
<path d="M586.7 383.4L571.8 379.4M575.2 382.8L571.8 379.4L576.4 378.2"/>
<path d="M603.7 383.4L588.7 379.4M592.1 382.8L588.7 379.4L593.3 378.2"/>
<path d="M620.6 383.4L605.6 379.4M609.0 382.8L605.6 379.4L610.2 378.2"/>
<path d="M637.5 383.4L622.5 379.4M625.9 382.8L622.5 379.4L627.2 378.2"/>
<path d="M146.8 366.2L158.2 355.6M153.5 356.7L158.2 355.6L156.8 360.2"/>
<path d="M299.1 366.2L305.9 352.2M301.9 354.9L305.9 352.2L306.2 357.0"/>
<path d="M316.0 366.2L325.3 353.8M320.9 355.7L325.3 353.8L324.8 358.5"/>
<path d="M332.9 366.2L342.9 354.3M338.4 355.9L342.9 354.3L342.1 359.0"/>
<path d="M349.9 366.2L359.2 353.8M354.8 355.7L359.2 353.8L358.6 358.5"/>
<path d="M366.8 366.2L376.7 354.3M372.2 355.9L376.7 354.3L375.9 359.0"/>
<path d="M383.7 366.2L394.8 355.4M390.2 356.6L394.8 355.4L393.5 360.0"/>
<path d="M400.6 366.2L412.5 356.2M407.8 357.0L412.5 356.2L410.9 360.7"/>
<path d="M417.5 366.2L431.0 358.4M426.2 358.4L431.0 358.4L428.6 362.6"/>
<path d="M434.5 366.2L448.8 360.4M444.1 359.7L448.8 360.4L445.9 364.1"/>
<path d="M451.4 366.2L465.9 360.9M461.2 360.0L465.9 360.9L462.9 364.5"/>
<path d="M468.3 366.2L480.2 356.2M475.4 357.0L480.2 356.2L478.5 360.7"/>
<path d="M485.2 366.2L486.6 350.7M483.8 354.6L486.6 350.7L488.6 355.1"/>
<path d="M502.1 366.2L516.2 359.6M511.4 359.2L516.2 359.6L513.4 363.5"/>
<path d="M519.1 366.2L526.8 352.7M522.7 355.1L526.8 352.7L526.8 357.5"/>
<path d="M569.8 366.2L554.5 364.0M558.3 367.0L554.5 364.0L558.9 362.2"/>
<path d="M586.7 366.2L571.4 364.0M575.2 367.0L571.4 364.0L575.8 362.2"/>
<path d="M603.7 366.2L588.3 364.0M592.1 367.0L588.3 364.0L592.8 362.2"/>
<path d="M620.6 366.2L605.2 364.0M609.0 367.0L605.2 364.0L609.7 362.2"/>
<path d="M637.5 366.2L622.2 364.0M625.9 367.0L622.2 364.0L626.6 362.2"/>
<path d="M299.1 348.8L301.8 333.6M298.7 337.3L301.8 333.6L303.4 338.1"/>
<path d="M316.0 348.8L323.1 335.0M319.0 337.6L323.1 335.0L323.3 339.8"/>
<path d="M332.9 348.8L341.8 336.1M337.5 338.2L341.8 336.1L341.4 340.9"/>
<path d="M349.9 348.8L358.1 335.7M353.8 338.0L358.1 335.7L357.9 340.5"/>
<path d="M366.8 348.8L375.7 336.1M371.3 338.2L375.7 336.1L375.3 340.9"/>
<path d="M383.7 348.8L393.9 337.1M389.3 338.7L393.9 337.1L393.0 341.9"/>
<path d="M400.6 348.8L412.1 338.5M407.4 339.5L412.1 338.5L410.7 343.0"/>
<path d="M417.5 348.8L430.5 340.4M425.7 340.7L430.5 340.4L428.4 344.7"/>
<path d="M434.5 348.8L448.5 342.3M443.7 341.9L448.5 342.3L445.8 346.2"/>
<path d="M451.4 348.8L466.6 346.2M462.1 344.5L466.6 346.2L463.0 349.2"/>
<path d="M468.3 348.8L483.6 346.2M479.1 344.5L483.6 346.2L479.9 349.2"/>
<path d="M502.1 348.8L504.8 333.6M501.7 337.3L504.8 333.6L506.5 338.1"/>
<path d="M519.1 348.8L524.4 334.3M520.7 337.4L524.4 334.3L525.2 339.0"/>
<path d="M552.9 348.8L537.5 347.5M541.4 350.2L537.5 347.5L541.8 345.5"/>
<path d="M569.8 348.8L554.4 347.5M558.3 350.2L554.4 347.5L558.7 345.5"/>
<path d="M586.7 348.8L571.3 347.5M575.2 350.2L571.3 347.5L575.6 345.5"/>
<path d="M603.7 348.8L588.2 347.5M592.2 350.2L588.2 347.5L592.6 345.5"/>
<path d="M620.6 348.8L605.1 347.5M609.1 350.2L605.1 347.5L609.5 345.5"/>
<path d="M637.5 348.8L622.1 347.5M626.0 350.2L622.1 347.5L626.4 345.5"/>
<path d="M299.1 331.5L299.1 316.0M296.7 320.1L299.1 316.0L301.5 320.1"/>
<path d="M316.0 331.5L321.3 316.9M317.6 320.0L321.3 316.9L322.2 321.6"/>
<path d="M332.9 331.5L340.2 317.8M336.1 320.3L340.2 317.8L340.4 322.6"/>
<path d="M349.9 331.5L357.6 318.0M353.5 320.4L357.6 318.0L357.6 322.8"/>
<path d="M366.8 331.5L375.7 318.8M371.3 320.8L375.7 318.8L375.3 323.5"/>
<path d="M383.7 331.5L394.3 320.1M389.7 321.5L394.3 320.1L393.2 324.8"/>
<path d="M400.6 331.5L413.2 322.3M408.4 322.9L413.2 322.3L411.2 326.7"/>
<path d="M417.5 331.5L431.2 324.2M426.4 324.0L431.2 324.2L428.7 328.3"/>
<path d="M434.5 331.5L449.4 327.2M444.7 326.0L449.4 327.2L446.0 330.6"/>
<path d="M451.4 331.5L466.4 327.7M461.8 326.4L466.4 327.7L463.0 331.0"/>
<path d="M536.0 331.5L520.5 330.4M524.5 333.1L520.5 330.4L524.8 328.3"/>
<path d="M552.9 331.5L537.4 330.4M541.4 333.1L537.4 330.4L541.8 328.3"/>
<path d="M569.8 331.5L554.4 330.4M558.3 333.1L554.4 330.4L558.7 328.3"/>
<path d="M586.7 331.5L571.3 330.4M575.3 333.1L571.3 330.4L575.6 328.3"/>
<path d="M603.7 331.5L588.2 330.4M592.2 333.1L588.2 330.4L592.5 328.3"/>
<path d="M620.6 331.5L605.1 330.4M609.1 333.1L605.1 330.4L609.4 328.3"/>
<path d="M637.5 331.5L622.0 330.4M626.0 333.1L622.0 330.4L626.4 328.3"/>
<path d="M299.1 314.0L297.7 298.6M295.7 302.9L297.7 298.6L300.5 302.5"/>
<path d="M316.0 314.0L319.2 298.8M316.0 302.4L319.2 298.8L320.7 303.4"/>
<path d="M332.9 314.0L339.2 299.8M335.4 302.7L339.2 299.8L339.7 304.6"/>
<path d="M349.9 314.0L358.3 301.0M354.0 303.2L358.3 301.0L358.1 305.8"/>
<path d="M366.8 314.0L376.9 302.3M372.4 303.9L376.9 302.3L376.0 307.0"/>
<path d="M383.7 314.0L395.2 303.6M390.5 304.6L395.2 303.6L393.7 308.2"/>
<path d="M400.6 314.0L413.2 304.9M408.4 305.4L413.2 304.9L411.2 309.3"/>
<path d="M417.5 314.0L431.7 307.7M426.9 307.2L431.7 307.7L428.9 311.6"/>
<path d="M434.5 314.0L449.3 309.5M444.6 308.4L449.3 309.5L446.0 313.0"/>
<path d="M451.4 314.0L466.5 310.8M462.0 309.3L466.5 310.8L463.0 314.0"/>
<path d="M519.1 314.0L503.6 312.6M507.6 315.4L503.6 312.6L508.0 310.6"/>
<path d="M536.0 314.0L520.5 312.6M524.5 315.4L520.5 312.6L524.9 310.6"/>
<path d="M552.9 314.0L537.5 312.6M541.4 315.4L537.5 312.6L541.8 310.6"/>
<path d="M569.8 314.0L554.4 312.6M558.3 315.4L554.4 312.6L558.7 310.6"/>
<path d="M586.7 314.0L571.3 312.6M575.2 315.4L571.3 312.6L575.6 310.6"/>
<path d="M603.7 314.0L588.2 312.6M592.2 315.4L588.2 312.6L592.6 310.6"/>
<path d="M620.6 314.0L605.1 312.6M609.1 315.4L605.1 312.6L609.5 310.6"/>
<path d="M637.5 314.0L622.1 312.6M626.0 315.4L622.1 312.6L626.4 310.6"/>
<path d="M282.2 296.5L271.6 285.1M272.7 289.8L271.6 285.1L276.2 286.5"/>
<path d="M299.1 296.5L296.9 281.1M295.1 285.6L296.9 281.1L299.9 284.9"/>
<path d="M316.0 296.5L316.8 281.0M314.2 285.0L316.8 281.0L319.0 285.3"/>
<path d="M332.9 296.5L335.6 281.2M332.5 284.9L335.6 281.2L337.3 285.7"/>
<path d="M349.9 296.5L357.6 283.0M353.5 285.4L357.6 283.0L357.6 287.8"/>
<path d="M366.8 296.5L377.2 284.9M372.6 286.4L377.2 284.9L376.2 289.6"/>
<path d="M383.7 296.5L394.8 285.7M390.2 286.9L394.8 285.7L393.5 290.3"/>
<path d="M400.6 296.5L413.2 287.3M408.4 287.8L413.2 287.3L411.2 291.7"/>
<path d="M417.5 296.5L431.4 289.4M426.6 289.2L431.4 289.4L428.7 293.4"/>
<path d="M434.5 296.5L448.6 290.2M443.8 289.7L448.6 290.2L445.8 294.0"/>
<path d="M451.4 296.5L465.9 291.2M461.2 290.3L465.9 291.2L462.9 294.8"/>
<path d="M519.1 296.5L503.7 294.6M507.5 297.5L503.7 294.6L508.1 292.7"/>
<path d="M536.0 296.5L520.6 294.6M524.4 297.5L520.6 294.6L525.0 292.7"/>
<path d="M552.9 296.5L537.5 294.6M541.3 297.5L537.5 294.6L541.9 292.7"/>
<path d="M569.8 296.5L554.4 294.6M558.3 297.5L554.4 294.6L558.9 292.7"/>
<path d="M586.7 296.5L571.4 294.6M575.2 297.5L571.4 294.6L575.8 292.7"/>
<path d="M603.7 296.5L588.3 294.6M592.1 297.5L588.3 294.6L592.7 292.7"/>
<path d="M620.6 296.5L605.2 294.6M609.0 297.5L605.2 294.6L609.6 292.7"/>
<path d="M637.5 296.5L622.1 294.6M625.9 297.5L622.1 294.6L626.5 292.7"/>
<path d="M265.3 278.8L253.4 268.9M255.0 273.4L253.4 268.9L258.1 269.7"/>
<path d="M282.2 278.8L274.0 265.7M274.1 270.5L274.0 265.7L278.2 267.9"/>
<path d="M299.1 278.8L296.4 263.6M294.8 268.1L296.4 263.6L299.5 267.2"/>
<path d="M316.0 278.8L316.6 263.3M314.0 267.4L316.6 263.3L318.8 267.6"/>
<path d="M332.9 278.8L334.6 263.4M331.7 267.3L334.6 263.4L336.5 267.8"/>
<path d="M349.9 278.8L356.9 265.0M352.9 267.6L356.9 265.0L357.1 269.8"/>
<path d="M366.8 278.8L376.3 266.6M371.9 268.4L376.3 266.6L375.7 271.4"/>
<path d="M383.7 278.8L394.3 267.5M389.7 268.9L394.3 267.5L393.2 272.2"/>
<path d="M400.6 278.8L412.8 269.3M408.1 270.0L412.8 269.3L411.0 273.7"/>
<path d="M417.5 278.8L430.4 270.2M425.6 270.5L430.4 270.2L428.3 274.5"/>
<path d="M434.5 278.8L448.3 271.8M443.5 271.5L448.3 271.8L445.7 275.8"/>
<path d="M451.4 278.8L466.0 273.8M461.3 272.9L466.0 273.8L462.9 277.4"/>
<path d="M519.1 278.8L503.7 276.7M507.5 279.6L503.7 276.7L508.2 274.9"/>
<path d="M536.0 278.8L520.6 276.7M524.4 279.6L520.6 276.7L525.1 274.9"/>
<path d="M552.9 278.8L537.6 276.7M541.3 279.6L537.6 276.7L542.0 274.9"/>
<path d="M569.8 278.8L554.5 276.7M558.3 279.6L554.5 276.7L558.9 274.9"/>
<path d="M586.7 278.8L571.4 276.7M575.2 279.6L571.4 276.7L575.8 274.9"/>
<path d="M603.7 278.8L588.3 276.7M592.1 279.6L588.3 276.7L592.8 274.9"/>
<path d="M620.6 278.8L605.2 276.7M609.0 279.6L605.2 276.7L609.7 274.9"/>
<path d="M637.5 278.8L622.2 276.7M625.9 279.6L622.2 276.7L626.6 274.9"/>
<path d="M248.3 261.1L246.2 245.8M244.4 250.2L246.2 245.8L249.1 249.5"/>
<path d="M265.3 261.1L262.0 245.9M260.6 250.5L262.0 245.9L265.2 249.5"/>
<path d="M316.0 261.1L316.8 245.6M314.2 249.7L316.8 245.6L319.0 249.9"/>
<path d="M332.9 261.1L335.1 245.8M332.1 249.5L335.1 245.8L336.9 250.2"/>
<path d="M349.9 261.1L356.2 246.9M352.3 249.8L356.2 246.9L356.7 251.7"/>
<path d="M366.8 261.1L375.0 248.0M370.8 250.2L375.0 248.0L374.8 252.8"/>
<path d="M383.7 261.1L393.0 248.7M388.6 250.6L393.0 248.7L392.4 253.5"/>
<path d="M400.6 261.1L411.2 249.8M406.6 251.2L411.2 249.8L410.1 254.4"/>
<path d="M417.5 261.1L429.8 251.6M425.0 252.2L429.8 251.6L428.0 256.0"/>
<path d="M434.5 261.1L447.7 253.1M442.9 253.2L447.7 253.1L445.4 257.3"/>
<path d="M451.4 261.1L465.8 255.3M461.0 254.6L465.8 255.3L462.8 259.1"/>
<path d="M519.1 261.1L503.8 258.4M507.5 261.5L503.8 258.4L508.3 256.8"/>
<path d="M536.0 261.1L520.7 258.4M524.4 261.5L520.7 258.4L525.2 256.8"/>
<path d="M552.9 261.1L537.6 258.4M541.3 261.5L537.6 258.4L542.1 256.8"/>
<path d="M569.8 261.1L554.6 258.4M558.2 261.5L554.6 258.4L559.1 256.8"/>
<path d="M586.7 261.1L571.5 258.4M575.2 261.5L571.5 258.4L576.0 256.8"/>
<path d="M603.7 261.1L588.4 258.4M592.1 261.5L588.4 258.4L592.9 256.8"/>
<path d="M620.6 261.1L605.3 258.4M609.0 261.5L605.3 258.4L609.8 256.8"/>
<path d="M637.5 261.1L622.2 258.4M625.9 261.5L622.2 258.4L626.7 256.8"/>
<path d="M231.4 243.3L232.0 227.8M229.4 231.9L232.0 227.8L234.2 232.0"/>
<path d="M248.3 243.3L248.9 227.8M246.3 231.9L248.9 227.8L251.1 232.0"/>
<path d="M265.3 243.3L268.5 228.1M265.3 231.7L268.5 228.1L270.0 232.7"/>
<path d="M316.0 243.3L318.2 227.9M315.2 231.7L318.2 227.9L320.0 232.4"/>
<path d="M332.9 243.3L335.6 228.0M332.5 231.7L335.6 228.0L337.3 232.5"/>
<path d="M349.9 243.3L356.2 229.1M352.3 231.9L356.2 229.1L356.7 233.9"/>
<path d="M366.8 243.3L374.1 229.6M370.0 232.1L374.1 229.6L374.2 234.4"/>
<path d="M383.7 243.3L392.1 230.3M387.9 232.5L392.1 230.3L391.9 235.1"/>
<path d="M400.6 243.3L410.2 231.1M405.7 232.9L410.2 231.1L409.5 235.8"/>
<path d="M417.5 243.3L428.1 231.9M423.5 233.3L428.1 231.9L427.0 236.6"/>
<path d="M434.5 243.3L446.0 232.9M441.3 233.9L446.0 232.9L444.5 237.5"/>
<path d="M451.4 243.3L464.2 234.6M459.4 234.9L464.2 234.6L462.1 238.9"/>
<path d="M468.3 243.3L481.9 235.8M477.1 235.7L481.9 235.8L479.4 239.9"/>
<path d="M485.2 243.3L484.9 227.8M482.6 232.0L484.9 227.8L487.4 231.9"/>
<path d="M502.1 243.3L487.8 237.5M490.7 241.3L487.8 237.5L492.5 236.8"/>
<path d="M519.1 243.3L504.5 238.0M507.6 241.7L504.5 238.0L509.2 237.1"/>
<path d="M536.0 243.3L520.8 240.1M524.4 243.3L520.8 240.1L525.4 238.6"/>
<path d="M552.9 243.3L537.7 240.1M541.3 243.3L537.7 240.1L542.3 238.6"/>
<path d="M569.8 243.3L554.7 240.1M558.2 243.3L554.7 240.1L559.2 238.6"/>
<path d="M586.7 243.3L571.6 240.1M575.1 243.3L571.6 240.1L576.1 238.6"/>
<path d="M603.7 243.3L588.5 240.1M592.1 243.3L588.5 240.1L593.1 238.6"/>
<path d="M620.6 243.3L605.4 240.1M609.0 243.3L605.4 240.1L610.0 238.6"/>
<path d="M637.5 243.3L622.3 240.1M625.9 243.3L622.3 240.1L626.9 238.6"/>
<path d="M248.3 225.3L254.9 211.3M251.0 214.1L254.9 211.3L255.3 216.1"/>
<path d="M265.3 225.3L272.5 211.7M268.5 214.2L272.5 211.7L272.7 216.5"/>
<path d="M282.2 225.3L294.1 215.4M289.3 216.2L294.1 215.4L292.4 219.9"/>
<path d="M316.0 225.3L314.7 209.9M312.6 214.3L314.7 209.9L317.4 213.8"/>
<path d="M332.9 225.3L336.2 210.2M333.0 213.8L336.2 210.2L337.6 214.8"/>
<path d="M349.9 225.3L355.9 211.1M352.1 214.0L355.9 211.1L356.5 215.8"/>
<path d="M366.8 225.3L374.1 211.7M370.0 214.2L374.1 211.7L374.2 216.5"/>
<path d="M383.7 225.3L391.0 211.7M386.9 214.2L391.0 211.7L391.1 216.5"/>
<path d="M400.6 225.3L409.7 212.8M405.3 214.8L409.7 212.8L409.2 217.6"/>
<path d="M417.5 225.3L427.9 213.8M423.3 215.3L427.9 213.8L426.9 218.5"/>
<path d="M434.5 225.3L444.8 213.8M440.3 215.3L444.8 213.8L443.8 218.5"/>
<path d="M451.4 225.3L461.5 213.6M457.0 215.2L461.5 213.6L460.6 218.4"/>
<path d="M468.3 225.3L474.1 211.0M470.3 213.9L474.1 211.0L474.8 215.7"/>
<path d="M485.2 225.3L479.9 210.8M479.1 215.5L479.9 210.8L483.6 213.9"/>
<path d="M502.1 225.3L488.1 218.8M490.8 222.7L488.1 218.8L492.9 218.4"/>
<path d="M519.1 225.3L505.2 218.3M507.9 222.3L505.2 218.3L510.0 218.1"/>
<path d="M536.0 225.3L521.9 218.8M524.7 222.7L521.9 218.8L526.7 218.4"/>
<path d="M552.9 225.3L538.6 219.3M541.5 223.1L538.6 219.3L543.4 218.7"/>
<path d="M569.8 225.3L554.8 221.6M558.2 224.9L554.8 221.6L559.4 220.3"/>
<path d="M586.7 225.3L571.6 222.1M575.1 225.3L571.6 222.1L576.1 220.6"/>
<path d="M603.7 225.3L588.5 222.1M592.1 225.3L588.5 222.1L593.1 220.6"/>
<path d="M620.6 225.3L605.4 222.1M609.0 225.3L605.4 222.1L610.0 220.6"/>
<path d="M637.5 225.3L622.3 222.1M625.9 225.3L622.3 222.1L626.9 220.6"/>
<path d="M282.2 207.3L293.1 196.3M288.5 197.6L293.1 196.3L291.9 201.0"/>
<path d="M316.0 207.3L318.8 192.0M315.7 195.7L318.8 192.0L320.4 196.6"/>
<path d="M332.9 207.3L337.7 192.6M334.2 195.8L337.7 192.6L338.7 197.3"/>
<path d="M349.9 207.3L355.9 193.0M352.1 195.9L355.9 193.0L356.5 197.8"/>
<path d="M366.8 207.3L373.8 193.5M369.8 196.1L373.8 193.5L374.1 198.3"/>
<path d="M383.7 207.3L390.7 193.5M386.7 196.1L390.7 193.5L391.0 198.3"/>
<path d="M400.6 207.3L409.7 194.8M405.3 196.7L409.7 194.8L409.2 199.5"/>
<path d="M417.5 207.3L427.1 195.1M422.6 196.9L427.1 195.1L426.4 199.8"/>
<path d="M434.5 207.3L444.8 195.8M440.3 197.3L444.8 195.8L443.8 200.5"/>
<path d="M451.4 207.3L460.7 194.9M456.3 196.8L460.7 194.9L460.1 199.7"/>
<path d="M468.3 207.3L472.8 192.5M469.3 195.8L472.8 192.5L473.9 197.2"/>
<path d="M485.2 207.3L482.5 192.0M480.9 196.5L482.5 192.0L485.6 195.7"/>
<path d="M502.1 207.3L499.4 192.0M497.8 196.5L499.4 192.0L502.5 195.7"/>
<path d="M519.1 207.3L513.0 193.0M512.4 197.8L513.0 193.0L516.8 195.9"/>
<path d="M536.0 207.3L527.3 194.5M527.6 199.2L527.3 194.5L531.6 196.6"/>
<path d="M552.9 207.3L541.9 196.3M543.2 201.0L541.9 196.3L546.6 197.6"/>
<path d="M569.8 207.3L555.6 201.2M558.4 205.1L555.6 201.2L560.3 200.7"/>
<path d="M586.7 207.3L571.9 202.8M575.2 206.3L571.9 202.8L576.6 201.7"/>
<path d="M603.7 207.3L588.8 202.8M592.1 206.3L588.8 202.8L593.5 201.7"/>
<path d="M620.6 207.3L605.8 202.5M609.1 206.1L605.8 202.5L610.5 201.5"/>
<path d="M637.5 207.3L622.5 203.3M625.9 206.7L622.5 203.3L627.2 202.0"/>
<path d="M383.7 189.1L391.5 175.7M387.3 178.1L391.5 175.7L391.5 180.5"/>
<path d="M400.6 189.1L410.4 177.1M405.9 178.8L410.4 177.1L409.6 181.8"/>
<path d="M417.5 189.1L427.9 177.6M423.3 179.1L427.9 177.6L426.9 182.3"/>
<path d="M434.5 189.1L445.6 178.4M441.0 179.5L445.6 178.4L444.3 183.0"/>
<path d="M451.4 189.1L461.3 177.3M456.8 178.9L461.3 177.3L460.5 182.0"/>
<path d="M468.3 189.1L475.3 175.3M471.3 177.9L475.3 175.3L475.6 180.1"/>
<path d="M485.2 189.1L490.9 174.7M487.1 177.7L490.9 174.7L491.6 179.5"/>
<path d="M502.1 189.1L512.5 177.6M507.9 179.1L512.5 177.6L511.5 182.3"/>
<path d="M519.1 189.1L527.3 176.0M523.0 178.2L527.3 176.0L527.1 180.8"/>
<path d="M536.0 189.1L538.7 173.9M535.6 177.5L538.7 173.9L540.3 178.4"/>
<path d="M552.9 189.1L548.9 174.2M547.6 178.8L548.9 174.2L552.3 177.6"/>
<path d="M569.8 189.1L559.9 177.3M560.7 182.0L559.9 177.3L564.4 178.9"/>
<path d="M586.7 189.1L574.4 179.8M576.2 184.2L574.4 179.8L579.1 180.4"/>
<path d="M603.7 189.1L590.7 180.7M592.8 185.0L590.7 180.7L595.5 180.9"/>
<path d="M620.6 189.1L606.8 182.1M609.4 186.1L606.8 182.1L611.6 181.8"/>
<path d="M637.5 189.1L623.5 182.6M626.2 186.5L623.5 182.6L628.2 182.2"/>
<path d="M417.5 170.8L428.5 159.9M423.9 161.1L428.5 159.9L427.3 164.5"/>
<path d="M434.5 170.8L446.2 160.7M441.4 161.6L446.2 160.7L444.6 165.2"/>
<path d="M451.4 170.8L463.3 160.9M458.5 161.7L463.3 160.9L461.6 165.4"/>
<path d="M502.1 170.8L499.4 155.6M497.8 160.1L499.4 155.6L502.5 159.2"/>
<path d="M519.1 170.8L526.8 157.4M522.7 159.8L526.8 157.4L526.8 162.2"/>
<path d="M536.0 170.8L542.8 156.9M538.8 159.6L542.8 156.9L543.1 161.7"/>
<path d="M552.9 170.8L552.9 155.3M550.5 159.5L552.9 155.3L555.3 159.5"/>
<path d="M569.8 170.8L568.5 155.4M566.4 159.7L568.5 155.4L571.2 159.3"/>
<path d="M586.7 170.8L579.9 156.9M579.6 161.7L579.9 156.9L583.9 159.6"/>
<path d="M603.7 170.8L593.7 159.0M594.5 163.7L593.7 159.0L598.2 160.6"/>
<path d="M620.6 170.8L608.7 160.9M610.3 165.4L608.7 160.9L613.4 161.7"/>
<path d="M637.5 170.8L625.1 161.5M627.0 165.9L625.1 161.5L629.9 162.1"/>
<path d="M434.5 152.4L446.2 142.3M441.5 143.2L446.2 142.3L444.6 146.9"/>
<path d="M451.4 152.4L463.4 142.6M458.7 143.4L463.4 142.6L461.7 147.1"/>
<path d="M468.3 152.4L479.3 141.4M474.6 142.7L479.3 141.4L478.0 146.1"/>
<path d="M502.1 152.4L500.5 137.0M498.6 141.4L500.5 137.0L503.3 140.9"/>
<path d="M519.1 152.4L519.1 136.9M516.7 141.1L519.1 136.9L521.5 141.1"/>
<path d="M536.0 152.4L538.7 137.1M535.6 140.8L538.7 137.1L540.3 141.6"/>
<path d="M552.9 152.4L557.2 137.5M553.7 140.8L557.2 137.5L558.3 142.2"/>
<path d="M569.8 152.4L574.1 137.5M570.6 140.8L574.1 137.5L575.3 142.2"/>
<path d="M586.7 152.4L586.7 136.9M584.3 141.1L586.7 136.9L589.1 141.1"/>
<path d="M603.7 152.4L598.6 137.7M597.7 142.5L598.6 137.7L602.2 140.9"/>
<path d="M620.6 152.4L611.9 139.6M612.2 144.3L611.9 139.6L616.2 141.7"/>
<path d="M637.5 152.4L628.2 140.0M628.8 144.8L628.2 140.0L632.6 141.9"/>
<path d="M451.4 133.8L462.0 122.5M457.4 123.9L462.0 122.5L460.9 127.2"/>
<path d="M468.3 133.8L477.4 121.3M473.0 123.2L477.4 121.3L476.9 126.1"/>
<path d="M502.1 133.8L509.9 120.4M505.7 122.8L509.9 120.4L509.9 125.2"/>
<path d="M519.1 133.8L520.4 118.4M517.7 122.3L520.4 118.4L522.4 122.7"/>
<path d="M536.0 133.8L544.6 121.0M540.3 123.1L544.6 121.0L544.3 125.8"/>
<path d="M552.9 133.8L564.8 123.9M560.0 124.7L564.8 123.9L563.1 128.4"/>
<path d="M569.8 133.8L574.4 119.0M570.8 122.3L574.4 119.0L575.4 123.7"/>
<path d="M586.7 133.8L586.7 118.3M584.3 122.5L586.7 118.3L589.1 122.5"/>
<path d="M603.7 133.8L603.9 118.3M601.5 122.4L603.9 118.3L606.3 122.5"/>
<path d="M620.6 133.8L616.6 118.9M615.3 123.5L616.6 118.9L620.0 122.2"/>
<path d="M637.5 133.8L632.2 119.3M631.4 124.0L632.2 119.3L635.9 122.3"/>
<path d="M468.3 115.1L479.3 104.1M474.6 105.4L479.3 104.1L478.0 108.8"/>
<path d="M485.2 115.1L495.8 103.8M491.2 105.2L495.8 103.8L494.7 108.4"/>
<path d="M502.1 115.1L516.0 108.1M511.2 107.8L516.0 108.1L513.3 112.1"/>
<path d="M519.1 115.1L530.0 104.1M525.4 105.4L530.0 104.1L528.8 108.8"/>
<path d="M536.0 115.1L543.0 101.3M539.0 103.9L543.0 101.3L543.3 106.1"/>
<path d="M552.9 115.1L556.9 100.1M553.5 103.5L556.9 100.1L558.2 104.8"/>
<path d="M569.8 115.1L573.8 100.1M570.4 103.5L573.8 100.1L575.1 104.8"/>
<path d="M586.7 115.1L591.5 100.4M588.0 103.6L591.5 100.4L592.5 105.1"/>
<path d="M603.7 115.1L607.9 100.2M604.5 103.5L607.9 100.2L609.1 104.9"/>
<path d="M620.6 115.1L622.2 99.7M619.4 103.6L622.2 99.7L624.2 104.1"/>
<path d="M637.5 115.1L638.9 99.7M636.1 103.6L638.9 99.7L640.9 104.0"/>
<path d="M485.2 96.2L496.7 85.8M492.0 86.8L496.7 85.8L495.3 90.4"/>
<path d="M502.1 96.2L513.8 86.0M509.1 87.0L513.8 86.0L512.3 90.6"/>
<path d="M519.1 96.2L530.2 85.4M525.6 86.6L530.2 85.4L528.9 90.1"/>
<path d="M536.0 96.2L545.3 83.8M540.9 85.7L545.3 83.8L544.7 88.6"/>
<path d="M552.9 96.2L557.7 81.5M554.1 84.7L557.7 81.5L558.7 86.2"/>
<path d="M569.8 96.2L574.4 81.4M570.8 84.7L574.4 81.4L575.4 86.1"/>
<path d="M586.7 96.2L595.0 83.1M590.7 85.3L595.0 83.1L594.8 87.9"/>
<path d="M603.7 96.2L617.7 89.7M612.9 89.2L617.7 89.7L615.0 93.6"/>
<path d="M620.6 96.2L623.8 81.0M620.6 84.6L623.8 81.0L625.3 85.6"/>
<path d="M637.5 96.2L640.7 81.0M637.5 84.6L640.7 81.0L642.2 85.6"/>
<path d="M485.2 77.2L496.1 66.1M491.5 67.4L496.1 66.1L494.9 70.8"/>
<path d="M502.1 77.2L513.1 66.2M508.5 67.4L513.1 66.2L511.9 70.8"/>
<path d="M519.1 77.2L530.0 66.2M525.4 67.4L530.0 66.2L528.8 70.8"/>
<path d="M536.0 77.2L546.9 66.2M542.3 67.4L546.9 66.2L545.7 70.8"/>
<path d="M552.9 77.2L563.5 65.8M558.9 67.2L563.5 65.8L562.4 70.5"/>
<path d="M569.8 77.2L573.8 62.2M570.4 65.6L573.8 62.2L575.1 66.8"/>
<path d="M586.7 77.2L593.0 63.0M589.2 65.8L593.0 63.0L593.5 67.8"/>
<path d="M603.7 77.2L611.4 63.7M607.3 66.1L611.4 63.7L611.4 68.5"/>
<path d="M620.6 77.2L627.1 63.1M623.2 65.9L627.1 63.1L627.5 67.9"/>
<path d="M637.5 77.2L642.8 62.6M639.1 65.7L642.8 62.6L643.6 67.3"/>
<path d="M502.1 57.9L509.9 44.5M505.7 46.9L509.9 44.5L509.9 49.3"/>
<path d="M519.1 57.9L522.5 42.8M519.3 46.3L522.5 42.8L524.0 47.4"/>
<path d="M536.0 57.9L542.5 43.9M538.6 46.6L542.5 43.9L542.9 48.7"/>
<path d="M552.9 57.9L560.7 44.5M556.5 46.9L560.7 44.5L560.7 49.3"/>
<path d="M569.8 57.9L571.4 42.5M568.6 46.4L571.4 42.5L573.4 46.9"/>
<path d="M586.7 57.9L589.4 42.7M586.3 46.3L589.4 42.7L591.1 47.2"/>
<path d="M603.7 57.9L610.2 43.9M606.3 46.6L610.2 43.9L610.6 48.7"/>
<path d="M620.6 57.9L625.6 43.3M622.0 46.4L625.6 43.3L626.5 48.0"/>
<path d="M637.5 57.9L642.3 43.2M638.7 46.4L642.3 43.2L643.3 47.9"/>
<path d="M519.1 38.5L522.5 23.4M519.3 26.9L522.5 23.4L524.0 28.0"/>
<path d="M536.0 38.5L542.5 24.4M538.6 27.2L542.5 24.4L542.9 29.2"/>
<path d="M552.9 38.5L560.7 25.1M556.5 27.5L560.7 25.1L560.7 29.9"/>
<path d="M569.8 38.5L571.4 23.1M568.6 27.0L571.4 23.1L573.4 27.5"/>
<path d="M586.7 38.5L589.4 23.2M586.3 26.9L589.4 23.2L591.1 27.7"/>
<path d="M603.7 38.5L610.2 24.4M606.3 27.2L610.2 24.4L610.6 29.2"/>
<path d="M620.6 38.5L625.6 23.8M622.0 27.0L625.6 23.8L626.5 28.6"/>
<path d="M637.5 38.5L642.3 23.8M638.7 27.0L642.3 23.8L643.3 28.5"/>
</g>
</g>
<g stroke="#000" stroke-width="1" shape-rendering="crispEdges">
<line x1="130.5" y1="38" x2="130.5" y2="43"/><line x1="130.5" y1="565" x2="130.5" y2="570"/><line x1="164.5" y1="38" x2="164.5" y2="43"/><line x1="164.5" y1="565" x2="164.5" y2="570"/><line x1="198.5" y1="38" x2="198.5" y2="43"/><line x1="198.5" y1="565" x2="198.5" y2="570"/><line x1="231.5" y1="38" x2="231.5" y2="43"/><line x1="231.5" y1="565" x2="231.5" y2="570"/><line x1="265.5" y1="38" x2="265.5" y2="43"/><line x1="265.5" y1="565" x2="265.5" y2="570"/><line x1="299.5" y1="38" x2="299.5" y2="43"/><line x1="299.5" y1="565" x2="299.5" y2="570"/><line x1="333.5" y1="38" x2="333.5" y2="43"/><line x1="333.5" y1="565" x2="333.5" y2="570"/><line x1="367.5" y1="38" x2="367.5" y2="43"/><line x1="367.5" y1="565" x2="367.5" y2="570"/><line x1="401.5" y1="38" x2="401.5" y2="43"/><line x1="401.5" y1="565" x2="401.5" y2="570"/><line x1="434.5" y1="38" x2="434.5" y2="43"/><line x1="434.5" y1="565" x2="434.5" y2="570"/><line x1="468.5" y1="38" x2="468.5" y2="43"/><line x1="468.5" y1="565" x2="468.5" y2="570"/><line x1="502.5" y1="38" x2="502.5" y2="43"/><line x1="502.5" y1="565" x2="502.5" y2="570"/><line x1="536.5" y1="38" x2="536.5" y2="43"/><line x1="536.5" y1="565" x2="536.5" y2="570"/><line x1="570.5" y1="38" x2="570.5" y2="43"/><line x1="570.5" y1="565" x2="570.5" y2="570"/><line x1="604.5" y1="38" x2="604.5" y2="43"/><line x1="604.5" y1="565" x2="604.5" y2="570"/><line x1="113" y1="537.5" x2="118" y2="537.5"/><line x1="632" y1="537.5" x2="637" y2="537.5"/><line x1="113" y1="503.5" x2="118" y2="503.5"/><line x1="632" y1="503.5" x2="637" y2="503.5"/><line x1="113" y1="469.5" x2="118" y2="469.5"/><line x1="632" y1="469.5" x2="637" y2="469.5"/><line x1="113" y1="435.5" x2="118" y2="435.5"/><line x1="632" y1="435.5" x2="637" y2="435.5"/><line x1="113" y1="401.5" x2="118" y2="401.5"/><line x1="632" y1="401.5" x2="637" y2="401.5"/><line x1="113" y1="366.5" x2="118" y2="366.5"/><line x1="632" y1="366.5" x2="637" y2="366.5"/><line x1="113" y1="331.5" x2="118" y2="331.5"/><line x1="632" y1="331.5" x2="637" y2="331.5"/><line x1="113" y1="296.5" x2="118" y2="296.5"/><line x1="632" y1="296.5" x2="637" y2="296.5"/><line x1="113" y1="261.5" x2="118" y2="261.5"/><line x1="632" y1="261.5" x2="637" y2="261.5"/><line x1="113" y1="225.5" x2="118" y2="225.5"/><line x1="632" y1="225.5" x2="637" y2="225.5"/><line x1="113" y1="189.5" x2="118" y2="189.5"/><line x1="632" y1="189.5" x2="637" y2="189.5"/><line x1="113" y1="152.5" x2="118" y2="152.5"/><line x1="632" y1="152.5" x2="637" y2="152.5"/><line x1="113" y1="115.5" x2="118" y2="115.5"/><line x1="632" y1="115.5" x2="637" y2="115.5"/><line x1="113" y1="77.5" x2="118" y2="77.5"/><line x1="632" y1="77.5" x2="637" y2="77.5"/></g>
<rect x="112" y="37" width="526" height="534" fill="none" stroke="#000" stroke-width="2" shape-rendering="crispEdges"/>
<rect x="255" y="629" width="241" height="13" fill="url(#cb)" shape-rendering="crispEdges"/>
</svg>
<div class="t " style="left:248.2px;top:8.0px;font-size:13px;">Significant Wave Height with Wave Direction</div>
<div class="t i" style="left:282.6px;top:21.1px;font-size:12.2px;">Valid For Aug-15-2015 06:00 GMT</div>
<div class="t i" style="left:119.3px;top:579.0px;font-size:10.6px;">100 E</div>
<div class="t i" style="left:204.0px;top:579.0px;font-size:10.6px;">105 E</div>
<div class="t i" style="left:288.9px;top:579.0px;font-size:10.6px;">110 E</div>
<div class="t i" style="left:373.4px;top:579.0px;font-size:10.6px;">115 E</div>
<div class="t i" style="left:458.1px;top:579.0px;font-size:10.6px;">120 E</div>
<div class="t i" style="left:542.4px;top:579.0px;font-size:10.6px;">125 E</div>
<div class="t i" style="left:627.5px;top:579.0px;font-size:10.6px;">130 E</div>
<div class="t i" style="left:645.2px;top:33.0px;font-size:10.9px;">30 N</div>
<div class="t i" style="left:645.2px;top:128.1px;font-size:10.9px;">25 N</div>
<div class="t i" style="left:645.2px;top:220.3px;font-size:10.9px;">20 N</div>
<div class="t i" style="left:645.2px;top:309.1px;font-size:10.9px;">15 N</div>
<div class="t i" style="left:645.2px;top:394.8px;font-size:10.9px;">10 N</div>
<div class="t i" style="left:645.2px;top:480.1px;font-size:10.9px;">5 N</div>
<div class="t i" style="left:645.2px;top:565.1px;font-size:10.9px;">0</div>
<div class="t " style="left:113.0px;top:592.4px;font-size:11.35px;">oceanweather inc.</div>
<div class="t i" style="left:521.2px;top:592.4px;font-size:7.4px;">Plotted at Aug 14, 2015 22:24 GMT</div>
<div class="t " style="left:305.3px;top:606.2px;font-size:9.6px;">Significant Wave Height (Meters)</div>
<div class="t " style="left:310.0px;top:653.4px;font-size:9.65px;">Significant Wave Height (Feet)</div>
<div class="t " style="left:254.1px;top:618.3px;font-size:8.9px;">0</div>
<div class="t " style="left:274.2px;top:618.3px;font-size:8.9px;">1</div>
<div class="t " style="left:294.2px;top:618.3px;font-size:8.9px;">2</div>
<div class="t " style="left:314.3px;top:618.3px;font-size:8.9px;">3</div>
<div class="t " style="left:334.3px;top:618.3px;font-size:8.9px;">4</div>
<div class="t " style="left:354.4px;top:618.3px;font-size:8.9px;">5</div>
<div class="t " style="left:374.4px;top:618.3px;font-size:8.9px;">6</div>
<div class="t " style="left:394.5px;top:618.3px;font-size:8.9px;">7</div>
<div class="t " style="left:414.5px;top:618.3px;font-size:8.9px;">8</div>
<div class="t " style="left:434.6px;top:618.3px;font-size:8.9px;">9</div>
<div class="t " style="left:452.2px;top:618.3px;font-size:8.9px;">10</div>
<div class="t " style="left:472.2px;top:618.3px;font-size:8.9px;">11</div>
<div class="t " style="left:492.3px;top:618.3px;font-size:8.9px;">12</div>
<div class="t " style="left:254.0px;top:642.3px;font-size:8.9px;">0</div>
<div class="t " style="left:284.2px;top:642.3px;font-size:8.9px;">5</div>
<div class="t " style="left:311.9px;top:642.3px;font-size:8.9px;">10</div>
<div class="t " style="left:342.1px;top:642.3px;font-size:8.9px;">15</div>
<div class="t " style="left:372.3px;top:642.3px;font-size:8.9px;">20</div>
<div class="t " style="left:402.5px;top:642.3px;font-size:8.9px;">25</div>
<div class="t " style="left:432.7px;top:642.3px;font-size:8.9px;">30</div>
<div class="t " style="left:462.9px;top:642.3px;font-size:8.9px;">35</div>
<div class="t " style="left:493.1px;top:642.3px;font-size:8.9px;">40</div>
</body></html>
